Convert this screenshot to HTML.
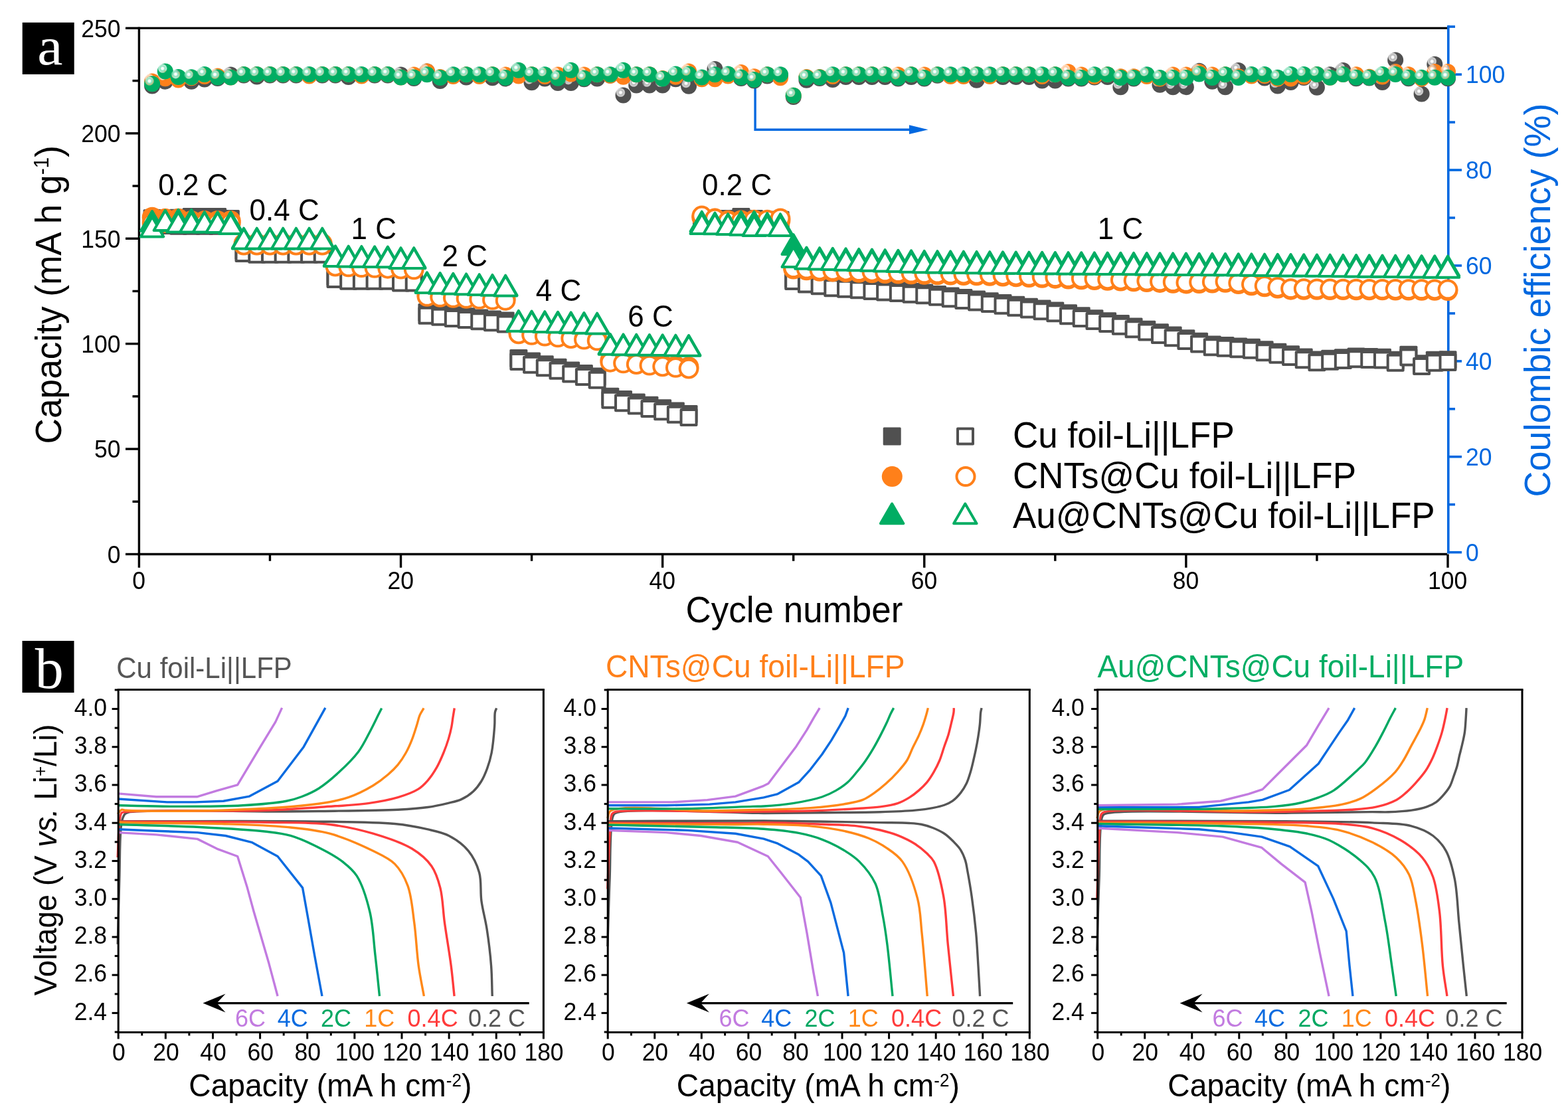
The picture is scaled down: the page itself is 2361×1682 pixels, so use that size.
<!DOCTYPE html><html><head><meta charset="utf-8"><title>Figure</title><style>html,body{margin:0;padding:0;background:#fff}svg{display:block}</style></head><body>
<svg xmlns="http://www.w3.org/2000/svg" width="2361" height="1682" viewBox="0 0 2361 1682" font-family='"Liberation Sans", Arial, sans-serif'>
<defs>
<radialGradient id="bG" cx="0.33" cy="0.32" r="0.3" fx="0.33" fy="0.32"><stop offset="0" stop-color="#ffffff"/><stop offset="0.2" stop-color="#ffffff"/><stop offset="0.5" stop-color="#8fe3c0"/><stop offset="0.8" stop-color="#8fe3c0" stop-opacity="0.6"/><stop offset="1" stop-color="#00AD63"/></radialGradient>
<radialGradient id="bO" cx="0.33" cy="0.32" r="0.3" fx="0.33" fy="0.32"><stop offset="0" stop-color="#ffffff"/><stop offset="0.2" stop-color="#ffffff"/><stop offset="0.5" stop-color="#ffc99e"/><stop offset="0.8" stop-color="#ffc99e" stop-opacity="0.6"/><stop offset="1" stop-color="#FF801A"/></radialGradient>
<radialGradient id="bK" cx="0.33" cy="0.32" r="0.3" fx="0.33" fy="0.32"><stop offset="0" stop-color="#ffffff"/><stop offset="0.2" stop-color="#ffffff"/><stop offset="0.5" stop-color="#b8b8b8"/><stop offset="0.8" stop-color="#b8b8b8" stop-opacity="0.6"/><stop offset="1" stop-color="#505050"/></radialGradient>
</defs>
<rect width="100%" height="100%" fill="#fff"/>
<rect x="33.7" y="33.9" width="78" height="78" fill="#000"/>
<text transform="translate(75.4,96.6) scale(1,0.94)" font-family='"Liberation Serif", "Times New Roman", serif' font-size="86" fill="#fff" text-anchor="middle">a</text>
<path d="M1137.1,128.4V195.3H1372" fill="none" stroke="#0068E0" stroke-width="3.4"/>
<path d="M1369,188.3L1397.6,195.3L1369,202.1Z" fill="#0068E0"/>
<g stroke="#000" stroke-width="3.4" fill="none">
<path d="M209.4,42.4H2179.0"/>
<path d="M209.4,40.699999999999996V836.2"/>
<path d="M207.6,834.5H2179.0"/>
<path d="M189,834.5H209.4"/>
<path d="M199.5,755.29H209.4"/>
<path d="M189,676.08H209.4"/>
<path d="M199.5,596.87H209.4"/>
<path d="M189,517.66H209.4"/>
<path d="M199.5,438.45H209.4"/>
<path d="M189,359.24H209.4"/>
<path d="M199.5,280.03H209.4"/>
<path d="M189,200.82H209.4"/>
<path d="M199.5,121.61H209.4"/>
<path d="M189,42.4H209.4"/>
<path d="M209.4,834.5V854.8"/>
<path d="M406.46,834.5V844.8"/>
<path d="M603.52,834.5V854.8"/>
<path d="M800.58,834.5V844.8"/>
<path d="M997.64,834.5V854.8"/>
<path d="M1194.7,834.5V844.8"/>
<path d="M1391.76,834.5V854.8"/>
<path d="M1588.82,834.5V844.8"/>
<path d="M1785.88,834.5V854.8"/>
<path d="M1982.94,834.5V844.8"/>
<path d="M2180,834.5V854.8"/>
</g>
<g stroke="#0068E0" stroke-width="3.6" fill="none">
<path d="M2180.8,38.3V833.4"/>
<path d="M2180.8,831.7H2201"/>
<path d="M2180.8,759.74H2191"/>
<path d="M2180.8,687.78H2201"/>
<path d="M2180.8,615.82H2191"/>
<path d="M2180.8,543.86H2201"/>
<path d="M2180.8,471.9H2191"/>
<path d="M2180.8,399.94H2201"/>
<path d="M2180.8,327.98H2191"/>
<path d="M2180.8,256.02H2201"/>
<path d="M2180.8,184.06H2191"/>
<path d="M2180.8,112.1H2201"/>
<path d="M2180.8,40.14H2191"/>
</g>
<g font-size="35.5" fill="#000" text-anchor="end">
<text transform="translate(181.5,847.8) scale(1,1.041)">0</text>
<text transform="translate(181.5,689.38) scale(1,1.041)">50</text>
<text transform="translate(181.5,530.96) scale(1,1.041)">100</text>
<text transform="translate(181.5,372.54) scale(1,1.041)">150</text>
<text transform="translate(181.5,214.12) scale(1,1.041)">200</text>
<text transform="translate(181.5,55.7) scale(1,1.041)">250</text>
</g>
<g font-size="35.5" fill="#000" text-anchor="middle">
<text transform="translate(209.1,887) scale(1,1.041)">0</text>
<text transform="translate(603.22,887) scale(1,1.041)">20</text>
<text transform="translate(997.34,887) scale(1,1.041)">40</text>
<text transform="translate(1391.46,887) scale(1,1.041)">60</text>
<text transform="translate(1785.58,887) scale(1,1.041)">80</text>
<text transform="translate(2179.7,887) scale(1,1.041)">100</text>
</g>
<g font-size="35.5" fill="#0068E0" text-anchor="start">
<text transform="translate(2207,845) scale(1,1.041)">0</text>
<text transform="translate(2207,701.08) scale(1,1.041)">20</text>
<text transform="translate(2207,557.16) scale(1,1.041)">40</text>
<text transform="translate(2207,413.24) scale(1,1.041)">60</text>
<text transform="translate(2207,269.32) scale(1,1.041)">80</text>
<text transform="translate(2207,125.4) scale(1,1.041)">100</text>
</g>
<text transform="translate(92.2,443.7) rotate(-90) scale(1,1.041)" font-size="53.2" text-anchor="middle" fill="#000">Capacity (mA h g<tspan font-size="30" dy="-18.5">-1</tspan><tspan dy="18.5">)</tspan></text>
<text transform="translate(1196,936.7) scale(1,1.041)" font-size="53" text-anchor="middle" fill="#000">Cycle number</text>
<text transform="translate(2334.4,452) rotate(-90) scale(1,1.041)" font-size="54" text-anchor="middle" fill="#0068E0">Coulombic efficiency (%)</text>
<g id="ce">
<circle cx="229.11" cy="129.6" r="12" fill="url(#bK)"/>
<circle cx="248.81" cy="122.7" r="12" fill="url(#bK)"/>
<circle cx="268.52" cy="118" r="12" fill="url(#bK)"/>
<circle cx="288.22" cy="122.7" r="12" fill="url(#bK)"/>
<circle cx="307.93" cy="119.6" r="12" fill="url(#bK)"/>
<circle cx="327.64" cy="117.9" r="12" fill="url(#bK)"/>
<circle cx="347.34" cy="112.5" r="12" fill="url(#bK)"/>
<circle cx="367.05" cy="113.5" r="12" fill="url(#bK)"/>
<circle cx="386.75" cy="115.6" r="12" fill="url(#bK)"/>
<circle cx="406.46" cy="113.5" r="12" fill="url(#bK)"/>
<circle cx="426.17" cy="113.5" r="12" fill="url(#bK)"/>
<circle cx="445.87" cy="113.5" r="12" fill="url(#bK)"/>
<circle cx="465.58" cy="113.5" r="12" fill="url(#bK)"/>
<circle cx="485.28" cy="113.5" r="12" fill="url(#bK)"/>
<circle cx="504.99" cy="113.5" r="12" fill="url(#bK)"/>
<circle cx="524.7" cy="115.9" r="12" fill="url(#bK)"/>
<circle cx="544.4" cy="113.5" r="12" fill="url(#bK)"/>
<circle cx="564.11" cy="113.5" r="12" fill="url(#bK)"/>
<circle cx="583.81" cy="113.5" r="12" fill="url(#bK)"/>
<circle cx="603.52" cy="112.5" r="12" fill="url(#bK)"/>
<circle cx="623.23" cy="118" r="12" fill="url(#bK)"/>
<circle cx="642.93" cy="107.6" r="12" fill="url(#bK)"/>
<circle cx="662.64" cy="122.1" r="12" fill="url(#bK)"/>
<circle cx="682.34" cy="113.7" r="12" fill="url(#bK)"/>
<circle cx="702.05" cy="116.5" r="12" fill="url(#bK)"/>
<circle cx="721.76" cy="113.7" r="12" fill="url(#bK)"/>
<circle cx="741.46" cy="117.2" r="12" fill="url(#bK)"/>
<circle cx="761.17" cy="118.5" r="12" fill="url(#bK)"/>
<circle cx="780.87" cy="107.3" r="12" fill="url(#bK)"/>
<circle cx="800.58" cy="124.2" r="12" fill="url(#bK)"/>
<circle cx="820.29" cy="118.6" r="12" fill="url(#bK)"/>
<circle cx="839.99" cy="124.9" r="12" fill="url(#bK)"/>
<circle cx="859.7" cy="124.9" r="12" fill="url(#bK)"/>
<circle cx="879.4" cy="119.3" r="12" fill="url(#bK)"/>
<circle cx="899.11" cy="118.6" r="12" fill="url(#bK)"/>
<circle cx="918.82" cy="113.7" r="12" fill="url(#bK)"/>
<circle cx="938.52" cy="143.6" r="12" fill="url(#bK)"/>
<circle cx="958.23" cy="128.4" r="12" fill="url(#bK)"/>
<circle cx="977.93" cy="128.4" r="12" fill="url(#bK)"/>
<circle cx="997.64" cy="128.4" r="12" fill="url(#bK)"/>
<circle cx="1017.35" cy="119.3" r="12" fill="url(#bK)"/>
<circle cx="1037.05" cy="129.8" r="12" fill="url(#bK)"/>
<circle cx="1056.76" cy="117.9" r="12" fill="url(#bK)"/>
<circle cx="1076.46" cy="104" r="12" fill="url(#bK)"/>
<circle cx="1096.17" cy="113" r="12" fill="url(#bK)"/>
<circle cx="1115.88" cy="117.9" r="12" fill="url(#bK)"/>
<circle cx="1135.58" cy="121.4" r="12" fill="url(#bK)"/>
<circle cx="1155.29" cy="114.4" r="12" fill="url(#bK)"/>
<circle cx="1174.99" cy="113.7" r="12" fill="url(#bK)"/>
<circle cx="1194.7" cy="146" r="12" fill="url(#bK)"/>
<circle cx="1214.41" cy="120.7" r="12" fill="url(#bK)"/>
<circle cx="1234.11" cy="117.9" r="12" fill="url(#bK)"/>
<circle cx="1253.82" cy="120" r="12" fill="url(#bK)"/>
<circle cx="1273.52" cy="116" r="12" fill="url(#bK)"/>
<circle cx="1293.23" cy="116" r="12" fill="url(#bK)"/>
<circle cx="1312.94" cy="116" r="12" fill="url(#bK)"/>
<circle cx="1332.64" cy="116" r="12" fill="url(#bK)"/>
<circle cx="1352.35" cy="118.5" r="12" fill="url(#bK)"/>
<circle cx="1372.05" cy="116" r="12" fill="url(#bK)"/>
<circle cx="1391.76" cy="118.5" r="12" fill="url(#bK)"/>
<circle cx="1411.47" cy="113.7" r="12" fill="url(#bK)"/>
<circle cx="1431.17" cy="113.7" r="12" fill="url(#bK)"/>
<circle cx="1450.88" cy="113.7" r="12" fill="url(#bK)"/>
<circle cx="1470.58" cy="120.7" r="12" fill="url(#bK)"/>
<circle cx="1490.29" cy="113.7" r="12" fill="url(#bK)"/>
<circle cx="1510" cy="116" r="12" fill="url(#bK)"/>
<circle cx="1529.7" cy="116" r="12" fill="url(#bK)"/>
<circle cx="1549.41" cy="116" r="12" fill="url(#bK)"/>
<circle cx="1569.11" cy="121.4" r="12" fill="url(#bK)"/>
<circle cx="1588.82" cy="121.4" r="12" fill="url(#bK)"/>
<circle cx="1608.53" cy="118.5" r="12" fill="url(#bK)"/>
<circle cx="1628.23" cy="118.5" r="12" fill="url(#bK)"/>
<circle cx="1647.94" cy="116.5" r="12" fill="url(#bK)"/>
<circle cx="1667.64" cy="116" r="12" fill="url(#bK)"/>
<circle cx="1687.35" cy="131.3" r="12" fill="url(#bK)"/>
<circle cx="1707.06" cy="118.5" r="12" fill="url(#bK)"/>
<circle cx="1726.76" cy="113.7" r="12" fill="url(#bK)"/>
<circle cx="1746.47" cy="127.7" r="12" fill="url(#bK)"/>
<circle cx="1766.17" cy="131.3" r="12" fill="url(#bK)"/>
<circle cx="1785.88" cy="131.3" r="12" fill="url(#bK)"/>
<circle cx="1805.59" cy="106.8" r="12" fill="url(#bK)"/>
<circle cx="1825.29" cy="122.8" r="12" fill="url(#bK)"/>
<circle cx="1845" cy="131.3" r="12" fill="url(#bK)"/>
<circle cx="1864.7" cy="106.1" r="12" fill="url(#bK)"/>
<circle cx="1884.41" cy="113.4" r="12" fill="url(#bK)"/>
<circle cx="1904.12" cy="117.6" r="12" fill="url(#bK)"/>
<circle cx="1923.82" cy="129.6" r="12" fill="url(#bK)"/>
<circle cx="1943.53" cy="124" r="12" fill="url(#bK)"/>
<circle cx="1963.23" cy="117" r="12" fill="url(#bK)"/>
<circle cx="1982.94" cy="131.8" r="12" fill="url(#bK)"/>
<circle cx="2002.65" cy="112.2" r="12" fill="url(#bK)"/>
<circle cx="2022.35" cy="105.9" r="12" fill="url(#bK)"/>
<circle cx="2042.06" cy="118.3" r="12" fill="url(#bK)"/>
<circle cx="2061.76" cy="117.6" r="12" fill="url(#bK)"/>
<circle cx="2081.47" cy="124" r="12" fill="url(#bK)"/>
<circle cx="2101.18" cy="90.4" r="12" fill="url(#bK)"/>
<circle cx="2120.88" cy="118.3" r="12" fill="url(#bK)"/>
<circle cx="2140.59" cy="141.6" r="12" fill="url(#bK)"/>
<circle cx="2160.29" cy="96.7" r="12" fill="url(#bK)"/>
<circle cx="2180" cy="118.3" r="12" fill="url(#bK)"/>
<circle cx="229.11" cy="122.5" r="12" fill="url(#bO)"/>
<circle cx="248.81" cy="118.3" r="12" fill="url(#bO)"/>
<circle cx="268.52" cy="120.4" r="12" fill="url(#bO)"/>
<circle cx="288.22" cy="117.3" r="12" fill="url(#bO)"/>
<circle cx="307.93" cy="115" r="12" fill="url(#bO)"/>
<circle cx="327.64" cy="114.6" r="12" fill="url(#bO)"/>
<circle cx="347.34" cy="116.5" r="12" fill="url(#bO)"/>
<circle cx="367.05" cy="112" r="12" fill="url(#bO)"/>
<circle cx="386.75" cy="112" r="12" fill="url(#bO)"/>
<circle cx="406.46" cy="112" r="12" fill="url(#bO)"/>
<circle cx="426.17" cy="112" r="12" fill="url(#bO)"/>
<circle cx="445.87" cy="112" r="12" fill="url(#bO)"/>
<circle cx="465.58" cy="114.5" r="12" fill="url(#bO)"/>
<circle cx="485.28" cy="112" r="12" fill="url(#bO)"/>
<circle cx="504.99" cy="112" r="12" fill="url(#bO)"/>
<circle cx="524.7" cy="112" r="12" fill="url(#bO)"/>
<circle cx="544.4" cy="114.5" r="12" fill="url(#bO)"/>
<circle cx="564.11" cy="112" r="12" fill="url(#bO)"/>
<circle cx="583.81" cy="112" r="12" fill="url(#bO)"/>
<circle cx="603.52" cy="116.5" r="12" fill="url(#bO)"/>
<circle cx="623.23" cy="112.5" r="12" fill="url(#bO)"/>
<circle cx="642.93" cy="107.5" r="12" fill="url(#bO)"/>
<circle cx="662.64" cy="116" r="12" fill="url(#bO)"/>
<circle cx="682.34" cy="115.1" r="12" fill="url(#bO)"/>
<circle cx="702.05" cy="112.2" r="12" fill="url(#bO)"/>
<circle cx="721.76" cy="115.1" r="12" fill="url(#bO)"/>
<circle cx="741.46" cy="112.2" r="12" fill="url(#bO)"/>
<circle cx="761.17" cy="112.4" r="12" fill="url(#bO)"/>
<circle cx="780.87" cy="114.4" r="12" fill="url(#bO)"/>
<circle cx="800.58" cy="112.2" r="12" fill="url(#bO)"/>
<circle cx="820.29" cy="115.1" r="12" fill="url(#bO)"/>
<circle cx="839.99" cy="112.4" r="12" fill="url(#bO)"/>
<circle cx="859.7" cy="111.6" r="12" fill="url(#bO)"/>
<circle cx="879.4" cy="112.4" r="12" fill="url(#bO)"/>
<circle cx="899.11" cy="112.2" r="12" fill="url(#bO)"/>
<circle cx="918.82" cy="113.7" r="12" fill="url(#bO)"/>
<circle cx="938.52" cy="115.8" r="12" fill="url(#bO)"/>
<circle cx="958.23" cy="112.2" r="12" fill="url(#bO)"/>
<circle cx="977.93" cy="112.2" r="12" fill="url(#bO)"/>
<circle cx="997.64" cy="118" r="12" fill="url(#bO)"/>
<circle cx="1017.35" cy="115.8" r="12" fill="url(#bO)"/>
<circle cx="1037.05" cy="107.5" r="12" fill="url(#bO)"/>
<circle cx="1056.76" cy="119.3" r="12" fill="url(#bO)"/>
<circle cx="1076.46" cy="119.3" r="12" fill="url(#bO)"/>
<circle cx="1096.17" cy="114.4" r="12" fill="url(#bO)"/>
<circle cx="1115.88" cy="108.9" r="12" fill="url(#bO)"/>
<circle cx="1135.58" cy="115.2" r="12" fill="url(#bO)"/>
<circle cx="1155.29" cy="112.2" r="12" fill="url(#bO)"/>
<circle cx="1174.99" cy="117.2" r="12" fill="url(#bO)"/>
<circle cx="1194.7" cy="143.7" r="12" fill="url(#bO)"/>
<circle cx="1214.41" cy="116" r="12" fill="url(#bO)"/>
<circle cx="1234.11" cy="116" r="12" fill="url(#bO)"/>
<circle cx="1253.82" cy="115" r="12" fill="url(#bO)"/>
<circle cx="1273.52" cy="112.2" r="12" fill="url(#bO)"/>
<circle cx="1293.23" cy="112.2" r="12" fill="url(#bO)"/>
<circle cx="1312.94" cy="112.2" r="12" fill="url(#bO)"/>
<circle cx="1332.64" cy="112.2" r="12" fill="url(#bO)"/>
<circle cx="1352.35" cy="112.4" r="12" fill="url(#bO)"/>
<circle cx="1372.05" cy="112.2" r="12" fill="url(#bO)"/>
<circle cx="1391.76" cy="112.4" r="12" fill="url(#bO)"/>
<circle cx="1411.47" cy="112.2" r="12" fill="url(#bO)"/>
<circle cx="1431.17" cy="115.1" r="12" fill="url(#bO)"/>
<circle cx="1450.88" cy="115.1" r="12" fill="url(#bO)"/>
<circle cx="1470.58" cy="112.2" r="12" fill="url(#bO)"/>
<circle cx="1490.29" cy="115.1" r="12" fill="url(#bO)"/>
<circle cx="1510" cy="112.2" r="12" fill="url(#bO)"/>
<circle cx="1529.7" cy="112.2" r="12" fill="url(#bO)"/>
<circle cx="1549.41" cy="112.2" r="12" fill="url(#bO)"/>
<circle cx="1569.11" cy="115.1" r="12" fill="url(#bO)"/>
<circle cx="1588.82" cy="112.2" r="12" fill="url(#bO)"/>
<circle cx="1608.53" cy="108.2" r="12" fill="url(#bO)"/>
<circle cx="1628.23" cy="112.4" r="12" fill="url(#bO)"/>
<circle cx="1647.94" cy="115.1" r="12" fill="url(#bO)"/>
<circle cx="1667.64" cy="112.2" r="12" fill="url(#bO)"/>
<circle cx="1687.35" cy="115.2" r="12" fill="url(#bO)"/>
<circle cx="1707.06" cy="115.2" r="12" fill="url(#bO)"/>
<circle cx="1726.76" cy="115.1" r="12" fill="url(#bO)"/>
<circle cx="1746.47" cy="118.6" r="12" fill="url(#bO)"/>
<circle cx="1766.17" cy="112.4" r="12" fill="url(#bO)"/>
<circle cx="1785.88" cy="112.4" r="12" fill="url(#bO)"/>
<circle cx="1805.59" cy="108.2" r="12" fill="url(#bO)"/>
<circle cx="1825.29" cy="112.4" r="12" fill="url(#bO)"/>
<circle cx="1845" cy="112.2" r="12" fill="url(#bO)"/>
<circle cx="1864.7" cy="115.2" r="12" fill="url(#bO)"/>
<circle cx="1884.41" cy="114.4" r="12" fill="url(#bO)"/>
<circle cx="1904.12" cy="114.1" r="12" fill="url(#bO)"/>
<circle cx="1923.82" cy="118.4" r="12" fill="url(#bO)"/>
<circle cx="1943.53" cy="118.4" r="12" fill="url(#bO)"/>
<circle cx="1963.23" cy="115.5" r="12" fill="url(#bO)"/>
<circle cx="1982.94" cy="111.9" r="12" fill="url(#bO)"/>
<circle cx="2002.65" cy="116.8" r="12" fill="url(#bO)"/>
<circle cx="2022.35" cy="111.9" r="12" fill="url(#bO)"/>
<circle cx="2042.06" cy="112.2" r="12" fill="url(#bO)"/>
<circle cx="2061.76" cy="115.7" r="12" fill="url(#bO)"/>
<circle cx="2081.47" cy="115.5" r="12" fill="url(#bO)"/>
<circle cx="2101.18" cy="108" r="12" fill="url(#bO)"/>
<circle cx="2120.88" cy="112.2" r="12" fill="url(#bO)"/>
<circle cx="2140.59" cy="118.4" r="12" fill="url(#bO)"/>
<circle cx="2160.29" cy="108" r="12" fill="url(#bO)"/>
<circle cx="2180" cy="108" r="12" fill="url(#bO)"/>
<circle cx="229.11" cy="126.3" r="12" fill="url(#bG)"/>
<circle cx="248.81" cy="107.4" r="12" fill="url(#bG)"/>
<circle cx="268.52" cy="116" r="12" fill="url(#bG)"/>
<circle cx="288.22" cy="116.3" r="12" fill="url(#bG)"/>
<circle cx="307.93" cy="112.1" r="12" fill="url(#bG)"/>
<circle cx="327.64" cy="116.4" r="12" fill="url(#bG)"/>
<circle cx="347.34" cy="116.5" r="12" fill="url(#bG)"/>
<circle cx="367.05" cy="112" r="12" fill="url(#bG)"/>
<circle cx="386.75" cy="112" r="12" fill="url(#bG)"/>
<circle cx="406.46" cy="112" r="12" fill="url(#bG)"/>
<circle cx="426.17" cy="112" r="12" fill="url(#bG)"/>
<circle cx="445.87" cy="112" r="12" fill="url(#bG)"/>
<circle cx="465.58" cy="112" r="12" fill="url(#bG)"/>
<circle cx="485.28" cy="112" r="12" fill="url(#bG)"/>
<circle cx="504.99" cy="112" r="12" fill="url(#bG)"/>
<circle cx="524.7" cy="112" r="12" fill="url(#bG)"/>
<circle cx="544.4" cy="112" r="12" fill="url(#bG)"/>
<circle cx="564.11" cy="112" r="12" fill="url(#bG)"/>
<circle cx="583.81" cy="112" r="12" fill="url(#bG)"/>
<circle cx="603.52" cy="116.5" r="12" fill="url(#bG)"/>
<circle cx="623.23" cy="116.5" r="12" fill="url(#bG)"/>
<circle cx="642.93" cy="112.2" r="12" fill="url(#bG)"/>
<circle cx="662.64" cy="117" r="12" fill="url(#bG)"/>
<circle cx="682.34" cy="112.2" r="12" fill="url(#bG)"/>
<circle cx="702.05" cy="112.2" r="12" fill="url(#bG)"/>
<circle cx="721.76" cy="112.2" r="12" fill="url(#bG)"/>
<circle cx="741.46" cy="112.2" r="12" fill="url(#bG)"/>
<circle cx="761.17" cy="117" r="12" fill="url(#bG)"/>
<circle cx="780.87" cy="105.8" r="12" fill="url(#bG)"/>
<circle cx="800.58" cy="112.2" r="12" fill="url(#bG)"/>
<circle cx="820.29" cy="112.2" r="12" fill="url(#bG)"/>
<circle cx="839.99" cy="117.8" r="12" fill="url(#bG)"/>
<circle cx="859.7" cy="105.8" r="12" fill="url(#bG)"/>
<circle cx="879.4" cy="117.8" r="12" fill="url(#bG)"/>
<circle cx="899.11" cy="112.2" r="12" fill="url(#bG)"/>
<circle cx="918.82" cy="112.2" r="12" fill="url(#bG)"/>
<circle cx="938.52" cy="105.8" r="12" fill="url(#bG)"/>
<circle cx="958.23" cy="112.2" r="12" fill="url(#bG)"/>
<circle cx="977.93" cy="112.2" r="12" fill="url(#bG)"/>
<circle cx="997.64" cy="118.5" r="12" fill="url(#bG)"/>
<circle cx="1017.35" cy="111.5" r="12" fill="url(#bG)"/>
<circle cx="1037.05" cy="111.5" r="12" fill="url(#bG)"/>
<circle cx="1056.76" cy="116.4" r="12" fill="url(#bG)"/>
<circle cx="1076.46" cy="112.2" r="12" fill="url(#bG)"/>
<circle cx="1096.17" cy="111.5" r="12" fill="url(#bG)"/>
<circle cx="1115.88" cy="116.4" r="12" fill="url(#bG)"/>
<circle cx="1135.58" cy="119.9" r="12" fill="url(#bG)"/>
<circle cx="1155.29" cy="112.2" r="12" fill="url(#bG)"/>
<circle cx="1174.99" cy="112.2" r="12" fill="url(#bG)"/>
<circle cx="1194.7" cy="143.7" r="12" fill="url(#bG)"/>
<circle cx="1214.41" cy="117" r="12" fill="url(#bG)"/>
<circle cx="1234.11" cy="116.4" r="12" fill="url(#bG)"/>
<circle cx="1253.82" cy="112.2" r="12" fill="url(#bG)"/>
<circle cx="1273.52" cy="112.2" r="12" fill="url(#bG)"/>
<circle cx="1293.23" cy="112.2" r="12" fill="url(#bG)"/>
<circle cx="1312.94" cy="112.2" r="12" fill="url(#bG)"/>
<circle cx="1332.64" cy="112.2" r="12" fill="url(#bG)"/>
<circle cx="1352.35" cy="117" r="12" fill="url(#bG)"/>
<circle cx="1372.05" cy="112.2" r="12" fill="url(#bG)"/>
<circle cx="1391.76" cy="117" r="12" fill="url(#bG)"/>
<circle cx="1411.47" cy="112.2" r="12" fill="url(#bG)"/>
<circle cx="1431.17" cy="112.2" r="12" fill="url(#bG)"/>
<circle cx="1450.88" cy="112.2" r="12" fill="url(#bG)"/>
<circle cx="1470.58" cy="112.2" r="12" fill="url(#bG)"/>
<circle cx="1490.29" cy="112.2" r="12" fill="url(#bG)"/>
<circle cx="1510" cy="112.2" r="12" fill="url(#bG)"/>
<circle cx="1529.7" cy="112.2" r="12" fill="url(#bG)"/>
<circle cx="1549.41" cy="112.2" r="12" fill="url(#bG)"/>
<circle cx="1569.11" cy="112.2" r="12" fill="url(#bG)"/>
<circle cx="1588.82" cy="112.2" r="12" fill="url(#bG)"/>
<circle cx="1608.53" cy="117" r="12" fill="url(#bG)"/>
<circle cx="1628.23" cy="117" r="12" fill="url(#bG)"/>
<circle cx="1647.94" cy="112.2" r="12" fill="url(#bG)"/>
<circle cx="1667.64" cy="112.2" r="12" fill="url(#bG)"/>
<circle cx="1687.35" cy="117" r="12" fill="url(#bG)"/>
<circle cx="1707.06" cy="117" r="12" fill="url(#bG)"/>
<circle cx="1726.76" cy="112.2" r="12" fill="url(#bG)"/>
<circle cx="1746.47" cy="117" r="12" fill="url(#bG)"/>
<circle cx="1766.17" cy="117" r="12" fill="url(#bG)"/>
<circle cx="1785.88" cy="117" r="12" fill="url(#bG)"/>
<circle cx="1805.59" cy="111.5" r="12" fill="url(#bG)"/>
<circle cx="1825.29" cy="117" r="12" fill="url(#bG)"/>
<circle cx="1845" cy="112.2" r="12" fill="url(#bG)"/>
<circle cx="1864.7" cy="117" r="12" fill="url(#bG)"/>
<circle cx="1884.41" cy="111.9" r="12" fill="url(#bG)"/>
<circle cx="1904.12" cy="111.9" r="12" fill="url(#bG)"/>
<circle cx="1923.82" cy="116.8" r="12" fill="url(#bG)"/>
<circle cx="1943.53" cy="111.9" r="12" fill="url(#bG)"/>
<circle cx="1963.23" cy="111.9" r="12" fill="url(#bG)"/>
<circle cx="1982.94" cy="111.9" r="12" fill="url(#bG)"/>
<circle cx="2002.65" cy="116.8" r="12" fill="url(#bG)"/>
<circle cx="2022.35" cy="111.9" r="12" fill="url(#bG)"/>
<circle cx="2042.06" cy="116.8" r="12" fill="url(#bG)"/>
<circle cx="2061.76" cy="116.8" r="12" fill="url(#bG)"/>
<circle cx="2081.47" cy="111.9" r="12" fill="url(#bG)"/>
<circle cx="2101.18" cy="111.9" r="12" fill="url(#bG)"/>
<circle cx="2120.88" cy="116.8" r="12" fill="url(#bG)"/>
<circle cx="2140.59" cy="116.8" r="12" fill="url(#bG)"/>
<circle cx="2160.29" cy="116.8" r="12" fill="url(#bG)"/>
<circle cx="2180" cy="116.8" r="12" fill="url(#bG)"/>
</g>
<g id="cap">
<rect x="215.61" y="315.32" width="27" height="27" rx="1.5" fill="#505050"/>
<rect x="235.31" y="315.32" width="27" height="27" rx="1.5" fill="#505050"/>
<rect x="255.02" y="314.69" width="27" height="27" rx="1.5" fill="#505050"/>
<rect x="274.72" y="313.11" width="27" height="27" rx="1.5" fill="#505050"/>
<rect x="294.43" y="313.11" width="27" height="27" rx="1.5" fill="#505050"/>
<rect x="314.14" y="313.11" width="27" height="27" rx="1.5" fill="#505050"/>
<rect x="333.84" y="315.96" width="27" height="27" rx="1.5" fill="#505050"/>
<rect x="353.55" y="364.12" width="27" height="27" rx="1.5" fill="#505050"/>
<rect x="373.25" y="366.02" width="27" height="27" rx="1.5" fill="#505050"/>
<rect x="392.96" y="366.02" width="27" height="27" rx="1.5" fill="#505050"/>
<rect x="412.67" y="366.02" width="27" height="27" rx="1.5" fill="#505050"/>
<rect x="432.37" y="366.02" width="27" height="27" rx="1.5" fill="#505050"/>
<rect x="452.08" y="366.02" width="27" height="27" rx="1.5" fill="#505050"/>
<rect x="471.78" y="366.02" width="27" height="27" rx="1.5" fill="#505050"/>
<rect x="491.49" y="403.09" width="27" height="27" rx="1.5" fill="#505050"/>
<rect x="511.2" y="405.94" width="27" height="27" rx="1.5" fill="#505050"/>
<rect x="530.9" y="405.94" width="27" height="27" rx="1.5" fill="#505050"/>
<rect x="550.61" y="405.94" width="27" height="27" rx="1.5" fill="#505050"/>
<rect x="570.31" y="405.94" width="27" height="27" rx="1.5" fill="#505050"/>
<rect x="590.02" y="408.79" width="27" height="27" rx="1.5" fill="#505050"/>
<rect x="609.73" y="408.79" width="27" height="27" rx="1.5" fill="#505050"/>
<rect x="629.43" y="456.95" width="27" height="27" rx="1.5" fill="#505050"/>
<rect x="649.14" y="459.06" width="27" height="27" rx="1.5" fill="#505050"/>
<rect x="668.84" y="461.18" width="27" height="27" rx="1.5" fill="#505050"/>
<rect x="688.55" y="463.29" width="27" height="27" rx="1.5" fill="#505050"/>
<rect x="708.26" y="465.4" width="27" height="27" rx="1.5" fill="#505050"/>
<rect x="727.96" y="467.51" width="27" height="27" rx="1.5" fill="#505050"/>
<rect x="747.67" y="469.62" width="27" height="27" rx="1.5" fill="#505050"/>
<rect x="767.37" y="526.02" width="27" height="27" rx="1.5" fill="#505050"/>
<rect x="787.08" y="530.62" width="27" height="27" rx="1.5" fill="#505050"/>
<rect x="806.79" y="535.21" width="27" height="27" rx="1.5" fill="#505050"/>
<rect x="826.49" y="539.8" width="27" height="27" rx="1.5" fill="#505050"/>
<rect x="846.2" y="544.4" width="27" height="27" rx="1.5" fill="#505050"/>
<rect x="865.9" y="548.99" width="27" height="27" rx="1.5" fill="#505050"/>
<rect x="885.61" y="553.59" width="27" height="27" rx="1.5" fill="#505050"/>
<rect x="905.32" y="583.69" width="27" height="27" rx="1.5" fill="#505050"/>
<rect x="925.02" y="588.07" width="27" height="27" rx="1.5" fill="#505050"/>
<rect x="944.73" y="592.45" width="27" height="27" rx="1.5" fill="#505050"/>
<rect x="964.43" y="596.84" width="27" height="27" rx="1.5" fill="#505050"/>
<rect x="984.14" y="601.22" width="27" height="27" rx="1.5" fill="#505050"/>
<rect x="1003.85" y="605.6" width="27" height="27" rx="1.5" fill="#505050"/>
<rect x="1023.55" y="609.98" width="27" height="27" rx="1.5" fill="#505050"/>
<rect x="1043.26" y="317.86" width="27" height="27" rx="1.5" fill="#505050"/>
<rect x="1062.96" y="317.86" width="27" height="27" rx="1.5" fill="#505050"/>
<rect x="1082.67" y="315.96" width="27" height="27" rx="1.5" fill="#505050"/>
<rect x="1102.38" y="313.11" width="27" height="27" rx="1.5" fill="#505050"/>
<rect x="1122.08" y="315.96" width="27" height="27" rx="1.5" fill="#505050"/>
<rect x="1141.79" y="317.86" width="27" height="27" rx="1.5" fill="#505050"/>
<rect x="1161.49" y="317.86" width="27" height="27" rx="1.5" fill="#505050"/>
<rect x="1181.2" y="406.26" width="27" height="27" rx="1.5" fill="#505050"/>
<rect x="1200.91" y="410.69" width="27" height="27" rx="1.5" fill="#505050"/>
<rect x="1220.61" y="413.54" width="27" height="27" rx="1.5" fill="#505050"/>
<rect x="1240.32" y="416.4" width="27" height="27" rx="1.5" fill="#505050"/>
<rect x="1260.02" y="417.98" width="27" height="27" rx="1.5" fill="#505050"/>
<rect x="1279.73" y="419.56" width="27" height="27" rx="1.5" fill="#505050"/>
<rect x="1299.44" y="421.15" width="27" height="27" rx="1.5" fill="#505050"/>
<rect x="1319.14" y="422.73" width="27" height="27" rx="1.5" fill="#505050"/>
<rect x="1338.85" y="424.32" width="27" height="27" rx="1.5" fill="#505050"/>
<rect x="1358.55" y="425.9" width="27" height="27" rx="1.5" fill="#505050"/>
<rect x="1378.26" y="427.48" width="27" height="27" rx="1.5" fill="#505050"/>
<rect x="1397.97" y="430.02" width="27" height="27" rx="1.5" fill="#505050"/>
<rect x="1417.67" y="432.55" width="27" height="27" rx="1.5" fill="#505050"/>
<rect x="1437.38" y="435.09" width="27" height="27" rx="1.5" fill="#505050"/>
<rect x="1457.08" y="437.62" width="27" height="27" rx="1.5" fill="#505050"/>
<rect x="1476.79" y="440.16" width="27" height="27" rx="1.5" fill="#505050"/>
<rect x="1496.5" y="443.01" width="27" height="27" rx="1.5" fill="#505050"/>
<rect x="1516.2" y="445.86" width="27" height="27" rx="1.5" fill="#505050"/>
<rect x="1535.91" y="448.71" width="27" height="27" rx="1.5" fill="#505050"/>
<rect x="1555.61" y="451.56" width="27" height="27" rx="1.5" fill="#505050"/>
<rect x="1575.32" y="454.42" width="27" height="27" rx="1.5" fill="#505050"/>
<rect x="1595.03" y="458.34" width="27" height="27" rx="1.5" fill="#505050"/>
<rect x="1614.73" y="462.27" width="27" height="27" rx="1.5" fill="#505050"/>
<rect x="1634.44" y="466.2" width="27" height="27" rx="1.5" fill="#505050"/>
<rect x="1654.14" y="470.13" width="27" height="27" rx="1.5" fill="#505050"/>
<rect x="1673.85" y="474.06" width="27" height="27" rx="1.5" fill="#505050"/>
<rect x="1693.56" y="478.42" width="27" height="27" rx="1.5" fill="#505050"/>
<rect x="1713.26" y="482.77" width="27" height="27" rx="1.5" fill="#505050"/>
<rect x="1732.97" y="487.13" width="27" height="27" rx="1.5" fill="#505050"/>
<rect x="1752.67" y="491.49" width="27" height="27" rx="1.5" fill="#505050"/>
<rect x="1772.38" y="496.13" width="27" height="27" rx="1.5" fill="#505050"/>
<rect x="1792.09" y="500.78" width="27" height="27" rx="1.5" fill="#505050"/>
<rect x="1811.79" y="505.43" width="27" height="27" rx="1.5" fill="#505050"/>
<rect x="1831.5" y="506.91" width="27" height="27" rx="1.5" fill="#505050"/>
<rect x="1851.2" y="508.38" width="27" height="27" rx="1.5" fill="#505050"/>
<rect x="1870.91" y="509.86" width="27" height="27" rx="1.5" fill="#505050"/>
<rect x="1890.62" y="513.35" width="27" height="27" rx="1.5" fill="#505050"/>
<rect x="1910.32" y="516.83" width="27" height="27" rx="1.5" fill="#505050"/>
<rect x="1930.03" y="520.32" width="27" height="27" rx="1.5" fill="#505050"/>
<rect x="1949.73" y="524.44" width="27" height="27" rx="1.5" fill="#505050"/>
<rect x="1969.44" y="528.56" width="27" height="27" rx="1.5" fill="#505050"/>
<rect x="1989.15" y="526.87" width="27" height="27" rx="1.5" fill="#505050"/>
<rect x="2008.85" y="525.18" width="27" height="27" rx="1.5" fill="#505050"/>
<rect x="2028.56" y="523.49" width="27" height="27" rx="1.5" fill="#505050"/>
<rect x="2048.26" y="524.12" width="27" height="27" rx="1.5" fill="#505050"/>
<rect x="2067.97" y="524.75" width="27" height="27" rx="1.5" fill="#505050"/>
<rect x="2087.68" y="528.87" width="27" height="27" rx="1.5" fill="#505050"/>
<rect x="2107.38" y="520.64" width="27" height="27" rx="1.5" fill="#505050"/>
<rect x="2127.09" y="534.26" width="27" height="27" rx="1.5" fill="#505050"/>
<rect x="2146.79" y="528.87" width="27" height="27" rx="1.5" fill="#505050"/>
<rect x="2166.5" y="528.24" width="27" height="27" rx="1.5" fill="#505050"/>
<rect x="217.61" y="330.31" width="23" height="23" fill="#fff" stroke="#505050" stroke-width="4" stroke-linejoin="round"/>
<rect x="237.31" y="328.1" width="23" height="23" fill="#fff" stroke="#505050" stroke-width="4" stroke-linejoin="round"/>
<rect x="257.02" y="328.73" width="23" height="23" fill="#fff" stroke="#505050" stroke-width="4" stroke-linejoin="round"/>
<rect x="276.72" y="328.73" width="23" height="23" fill="#fff" stroke="#505050" stroke-width="4" stroke-linejoin="round"/>
<rect x="296.43" y="328.73" width="23" height="23" fill="#fff" stroke="#505050" stroke-width="4" stroke-linejoin="round"/>
<rect x="316.14" y="328.73" width="23" height="23" fill="#fff" stroke="#505050" stroke-width="4" stroke-linejoin="round"/>
<rect x="335.84" y="328.73" width="23" height="23" fill="#fff" stroke="#505050" stroke-width="4" stroke-linejoin="round"/>
<rect x="355.55" y="369.92" width="23" height="23" fill="#fff" stroke="#505050" stroke-width="4" stroke-linejoin="round"/>
<rect x="375.25" y="371.82" width="23" height="23" fill="#fff" stroke="#505050" stroke-width="4" stroke-linejoin="round"/>
<rect x="394.96" y="371.82" width="23" height="23" fill="#fff" stroke="#505050" stroke-width="4" stroke-linejoin="round"/>
<rect x="414.67" y="371.82" width="23" height="23" fill="#fff" stroke="#505050" stroke-width="4" stroke-linejoin="round"/>
<rect x="434.37" y="371.82" width="23" height="23" fill="#fff" stroke="#505050" stroke-width="4" stroke-linejoin="round"/>
<rect x="454.08" y="371.82" width="23" height="23" fill="#fff" stroke="#505050" stroke-width="4" stroke-linejoin="round"/>
<rect x="473.78" y="371.82" width="23" height="23" fill="#fff" stroke="#505050" stroke-width="4" stroke-linejoin="round"/>
<rect x="493.49" y="408.89" width="23" height="23" fill="#fff" stroke="#505050" stroke-width="4" stroke-linejoin="round"/>
<rect x="513.2" y="411.74" width="23" height="23" fill="#fff" stroke="#505050" stroke-width="4" stroke-linejoin="round"/>
<rect x="532.9" y="411.74" width="23" height="23" fill="#fff" stroke="#505050" stroke-width="4" stroke-linejoin="round"/>
<rect x="552.61" y="411.74" width="23" height="23" fill="#fff" stroke="#505050" stroke-width="4" stroke-linejoin="round"/>
<rect x="572.31" y="411.74" width="23" height="23" fill="#fff" stroke="#505050" stroke-width="4" stroke-linejoin="round"/>
<rect x="592.02" y="414.59" width="23" height="23" fill="#fff" stroke="#505050" stroke-width="4" stroke-linejoin="round"/>
<rect x="611.73" y="414.59" width="23" height="23" fill="#fff" stroke="#505050" stroke-width="4" stroke-linejoin="round"/>
<rect x="631.43" y="463.7" width="23" height="23" fill="#fff" stroke="#505050" stroke-width="4" stroke-linejoin="round"/>
<rect x="651.14" y="465.82" width="23" height="23" fill="#fff" stroke="#505050" stroke-width="4" stroke-linejoin="round"/>
<rect x="670.84" y="467.93" width="23" height="23" fill="#fff" stroke="#505050" stroke-width="4" stroke-linejoin="round"/>
<rect x="690.55" y="470.04" width="23" height="23" fill="#fff" stroke="#505050" stroke-width="4" stroke-linejoin="round"/>
<rect x="710.26" y="472.15" width="23" height="23" fill="#fff" stroke="#505050" stroke-width="4" stroke-linejoin="round"/>
<rect x="729.96" y="474.26" width="23" height="23" fill="#fff" stroke="#505050" stroke-width="4" stroke-linejoin="round"/>
<rect x="749.67" y="476.38" width="23" height="23" fill="#fff" stroke="#505050" stroke-width="4" stroke-linejoin="round"/>
<rect x="769.37" y="533.09" width="23" height="23" fill="#fff" stroke="#505050" stroke-width="4" stroke-linejoin="round"/>
<rect x="789.08" y="537.69" width="23" height="23" fill="#fff" stroke="#505050" stroke-width="4" stroke-linejoin="round"/>
<rect x="808.79" y="542.28" width="23" height="23" fill="#fff" stroke="#505050" stroke-width="4" stroke-linejoin="round"/>
<rect x="828.49" y="546.87" width="23" height="23" fill="#fff" stroke="#505050" stroke-width="4" stroke-linejoin="round"/>
<rect x="848.2" y="551.47" width="23" height="23" fill="#fff" stroke="#505050" stroke-width="4" stroke-linejoin="round"/>
<rect x="867.9" y="556.06" width="23" height="23" fill="#fff" stroke="#505050" stroke-width="4" stroke-linejoin="round"/>
<rect x="887.61" y="560.66" width="23" height="23" fill="#fff" stroke="#505050" stroke-width="4" stroke-linejoin="round"/>
<rect x="907.32" y="590.76" width="23" height="23" fill="#fff" stroke="#505050" stroke-width="4" stroke-linejoin="round"/>
<rect x="927.02" y="595.14" width="23" height="23" fill="#fff" stroke="#505050" stroke-width="4" stroke-linejoin="round"/>
<rect x="946.73" y="599.52" width="23" height="23" fill="#fff" stroke="#505050" stroke-width="4" stroke-linejoin="round"/>
<rect x="966.43" y="603.91" width="23" height="23" fill="#fff" stroke="#505050" stroke-width="4" stroke-linejoin="round"/>
<rect x="986.14" y="608.29" width="23" height="23" fill="#fff" stroke="#505050" stroke-width="4" stroke-linejoin="round"/>
<rect x="1005.85" y="612.67" width="23" height="23" fill="#fff" stroke="#505050" stroke-width="4" stroke-linejoin="round"/>
<rect x="1025.55" y="617.05" width="23" height="23" fill="#fff" stroke="#505050" stroke-width="4" stroke-linejoin="round"/>
<rect x="1045.26" y="327.78" width="23" height="23" fill="#fff" stroke="#505050" stroke-width="4" stroke-linejoin="round"/>
<rect x="1064.96" y="327.78" width="23" height="23" fill="#fff" stroke="#505050" stroke-width="4" stroke-linejoin="round"/>
<rect x="1084.67" y="327.78" width="23" height="23" fill="#fff" stroke="#505050" stroke-width="4" stroke-linejoin="round"/>
<rect x="1104.38" y="327.78" width="23" height="23" fill="#fff" stroke="#505050" stroke-width="4" stroke-linejoin="round"/>
<rect x="1124.08" y="327.78" width="23" height="23" fill="#fff" stroke="#505050" stroke-width="4" stroke-linejoin="round"/>
<rect x="1143.79" y="327.78" width="23" height="23" fill="#fff" stroke="#505050" stroke-width="4" stroke-linejoin="round"/>
<rect x="1163.49" y="327.78" width="23" height="23" fill="#fff" stroke="#505050" stroke-width="4" stroke-linejoin="round"/>
<rect x="1183.2" y="412.06" width="23" height="23" fill="#fff" stroke="#505050" stroke-width="4" stroke-linejoin="round"/>
<rect x="1202.91" y="416.49" width="23" height="23" fill="#fff" stroke="#505050" stroke-width="4" stroke-linejoin="round"/>
<rect x="1222.61" y="419.35" width="23" height="23" fill="#fff" stroke="#505050" stroke-width="4" stroke-linejoin="round"/>
<rect x="1242.32" y="422.2" width="23" height="23" fill="#fff" stroke="#505050" stroke-width="4" stroke-linejoin="round"/>
<rect x="1262.02" y="423.78" width="23" height="23" fill="#fff" stroke="#505050" stroke-width="4" stroke-linejoin="round"/>
<rect x="1281.73" y="425.37" width="23" height="23" fill="#fff" stroke="#505050" stroke-width="4" stroke-linejoin="round"/>
<rect x="1301.44" y="426.95" width="23" height="23" fill="#fff" stroke="#505050" stroke-width="4" stroke-linejoin="round"/>
<rect x="1321.14" y="428.53" width="23" height="23" fill="#fff" stroke="#505050" stroke-width="4" stroke-linejoin="round"/>
<rect x="1340.85" y="430.12" width="23" height="23" fill="#fff" stroke="#505050" stroke-width="4" stroke-linejoin="round"/>
<rect x="1360.55" y="431.7" width="23" height="23" fill="#fff" stroke="#505050" stroke-width="4" stroke-linejoin="round"/>
<rect x="1380.26" y="433.29" width="23" height="23" fill="#fff" stroke="#505050" stroke-width="4" stroke-linejoin="round"/>
<rect x="1399.97" y="435.82" width="23" height="23" fill="#fff" stroke="#505050" stroke-width="4" stroke-linejoin="round"/>
<rect x="1419.67" y="438.36" width="23" height="23" fill="#fff" stroke="#505050" stroke-width="4" stroke-linejoin="round"/>
<rect x="1439.38" y="440.89" width="23" height="23" fill="#fff" stroke="#505050" stroke-width="4" stroke-linejoin="round"/>
<rect x="1459.08" y="443.43" width="23" height="23" fill="#fff" stroke="#505050" stroke-width="4" stroke-linejoin="round"/>
<rect x="1478.79" y="445.96" width="23" height="23" fill="#fff" stroke="#505050" stroke-width="4" stroke-linejoin="round"/>
<rect x="1498.5" y="448.81" width="23" height="23" fill="#fff" stroke="#505050" stroke-width="4" stroke-linejoin="round"/>
<rect x="1518.2" y="451.66" width="23" height="23" fill="#fff" stroke="#505050" stroke-width="4" stroke-linejoin="round"/>
<rect x="1537.91" y="454.52" width="23" height="23" fill="#fff" stroke="#505050" stroke-width="4" stroke-linejoin="round"/>
<rect x="1557.61" y="457.37" width="23" height="23" fill="#fff" stroke="#505050" stroke-width="4" stroke-linejoin="round"/>
<rect x="1577.32" y="460.22" width="23" height="23" fill="#fff" stroke="#505050" stroke-width="4" stroke-linejoin="round"/>
<rect x="1597.03" y="464.15" width="23" height="23" fill="#fff" stroke="#505050" stroke-width="4" stroke-linejoin="round"/>
<rect x="1616.73" y="468.08" width="23" height="23" fill="#fff" stroke="#505050" stroke-width="4" stroke-linejoin="round"/>
<rect x="1636.44" y="472" width="23" height="23" fill="#fff" stroke="#505050" stroke-width="4" stroke-linejoin="round"/>
<rect x="1656.14" y="475.93" width="23" height="23" fill="#fff" stroke="#505050" stroke-width="4" stroke-linejoin="round"/>
<rect x="1675.85" y="479.86" width="23" height="23" fill="#fff" stroke="#505050" stroke-width="4" stroke-linejoin="round"/>
<rect x="1695.56" y="484.22" width="23" height="23" fill="#fff" stroke="#505050" stroke-width="4" stroke-linejoin="round"/>
<rect x="1715.26" y="488.58" width="23" height="23" fill="#fff" stroke="#505050" stroke-width="4" stroke-linejoin="round"/>
<rect x="1734.97" y="492.93" width="23" height="23" fill="#fff" stroke="#505050" stroke-width="4" stroke-linejoin="round"/>
<rect x="1754.67" y="497.29" width="23" height="23" fill="#fff" stroke="#505050" stroke-width="4" stroke-linejoin="round"/>
<rect x="1774.38" y="501.94" width="23" height="23" fill="#fff" stroke="#505050" stroke-width="4" stroke-linejoin="round"/>
<rect x="1794.09" y="506.58" width="23" height="23" fill="#fff" stroke="#505050" stroke-width="4" stroke-linejoin="round"/>
<rect x="1813.79" y="511.23" width="23" height="23" fill="#fff" stroke="#505050" stroke-width="4" stroke-linejoin="round"/>
<rect x="1833.5" y="512.71" width="23" height="23" fill="#fff" stroke="#505050" stroke-width="4" stroke-linejoin="round"/>
<rect x="1853.2" y="514.19" width="23" height="23" fill="#fff" stroke="#505050" stroke-width="4" stroke-linejoin="round"/>
<rect x="1872.91" y="515.67" width="23" height="23" fill="#fff" stroke="#505050" stroke-width="4" stroke-linejoin="round"/>
<rect x="1892.62" y="519.15" width="23" height="23" fill="#fff" stroke="#505050" stroke-width="4" stroke-linejoin="round"/>
<rect x="1912.32" y="522.64" width="23" height="23" fill="#fff" stroke="#505050" stroke-width="4" stroke-linejoin="round"/>
<rect x="1932.03" y="526.12" width="23" height="23" fill="#fff" stroke="#505050" stroke-width="4" stroke-linejoin="round"/>
<rect x="1951.73" y="530.24" width="23" height="23" fill="#fff" stroke="#505050" stroke-width="4" stroke-linejoin="round"/>
<rect x="1971.44" y="534.36" width="23" height="23" fill="#fff" stroke="#505050" stroke-width="4" stroke-linejoin="round"/>
<rect x="1991.15" y="532.67" width="23" height="23" fill="#fff" stroke="#505050" stroke-width="4" stroke-linejoin="round"/>
<rect x="2010.85" y="530.98" width="23" height="23" fill="#fff" stroke="#505050" stroke-width="4" stroke-linejoin="round"/>
<rect x="2030.56" y="529.29" width="23" height="23" fill="#fff" stroke="#505050" stroke-width="4" stroke-linejoin="round"/>
<rect x="2050.26" y="529.92" width="23" height="23" fill="#fff" stroke="#505050" stroke-width="4" stroke-linejoin="round"/>
<rect x="2069.97" y="530.56" width="23" height="23" fill="#fff" stroke="#505050" stroke-width="4" stroke-linejoin="round"/>
<rect x="2089.68" y="534.68" width="23" height="23" fill="#fff" stroke="#505050" stroke-width="4" stroke-linejoin="round"/>
<rect x="2109.38" y="526.44" width="23" height="23" fill="#fff" stroke="#505050" stroke-width="4" stroke-linejoin="round"/>
<rect x="2129.09" y="540.06" width="23" height="23" fill="#fff" stroke="#505050" stroke-width="4" stroke-linejoin="round"/>
<rect x="2148.79" y="534.68" width="23" height="23" fill="#fff" stroke="#505050" stroke-width="4" stroke-linejoin="round"/>
<rect x="2168.5" y="534.04" width="23" height="23" fill="#fff" stroke="#505050" stroke-width="4" stroke-linejoin="round"/>
<circle cx="229.11" cy="327.24" r="15.4" fill="#FF801A"/>
<circle cx="248.81" cy="329.14" r="15.4" fill="#FF801A"/>
<circle cx="268.52" cy="329.14" r="15.4" fill="#FF801A"/>
<circle cx="288.22" cy="332.31" r="15.4" fill="#FF801A"/>
<circle cx="307.93" cy="332.31" r="15.4" fill="#FF801A"/>
<circle cx="327.64" cy="332.31" r="15.4" fill="#FF801A"/>
<circle cx="347.34" cy="332.31" r="15.4" fill="#FF801A"/>
<circle cx="367.05" cy="366.53" r="15.4" fill="#FF801A"/>
<circle cx="386.75" cy="366.53" r="15.4" fill="#FF801A"/>
<circle cx="406.46" cy="366.53" r="15.4" fill="#FF801A"/>
<circle cx="426.17" cy="366.53" r="15.4" fill="#FF801A"/>
<circle cx="445.87" cy="366.53" r="15.4" fill="#FF801A"/>
<circle cx="465.58" cy="366.53" r="15.4" fill="#FF801A"/>
<circle cx="485.28" cy="366.53" r="15.4" fill="#FF801A"/>
<circle cx="504.99" cy="398.53" r="15.4" fill="#FF801A"/>
<circle cx="524.7" cy="399.32" r="15.4" fill="#FF801A"/>
<circle cx="544.4" cy="400.11" r="15.4" fill="#FF801A"/>
<circle cx="564.11" cy="400.9" r="15.4" fill="#FF801A"/>
<circle cx="583.81" cy="401.7" r="15.4" fill="#FF801A"/>
<circle cx="603.52" cy="402.49" r="15.4" fill="#FF801A"/>
<circle cx="623.23" cy="403.28" r="15.4" fill="#FF801A"/>
<circle cx="642.93" cy="443.84" r="15.4" fill="#FF801A"/>
<circle cx="662.64" cy="444.84" r="15.4" fill="#FF801A"/>
<circle cx="682.34" cy="445.84" r="15.4" fill="#FF801A"/>
<circle cx="702.05" cy="446.85" r="15.4" fill="#FF801A"/>
<circle cx="721.76" cy="447.85" r="15.4" fill="#FF801A"/>
<circle cx="741.46" cy="448.85" r="15.4" fill="#FF801A"/>
<circle cx="761.17" cy="449.86" r="15.4" fill="#FF801A"/>
<circle cx="780.87" cy="500.23" r="15.4" fill="#FF801A"/>
<circle cx="800.58" cy="501.92" r="15.4" fill="#FF801A"/>
<circle cx="820.29" cy="503.61" r="15.4" fill="#FF801A"/>
<circle cx="839.99" cy="505.3" r="15.4" fill="#FF801A"/>
<circle cx="859.7" cy="506.99" r="15.4" fill="#FF801A"/>
<circle cx="879.4" cy="508.68" r="15.4" fill="#FF801A"/>
<circle cx="899.11" cy="510.37" r="15.4" fill="#FF801A"/>
<circle cx="918.82" cy="542.69" r="15.4" fill="#FF801A"/>
<circle cx="938.52" cy="544.33" r="15.4" fill="#FF801A"/>
<circle cx="958.23" cy="545.96" r="15.4" fill="#FF801A"/>
<circle cx="977.93" cy="547.6" r="15.4" fill="#FF801A"/>
<circle cx="997.64" cy="549.24" r="15.4" fill="#FF801A"/>
<circle cx="1017.35" cy="550.88" r="15.4" fill="#FF801A"/>
<circle cx="1037.05" cy="552.51" r="15.4" fill="#FF801A"/>
<circle cx="1056.76" cy="327.56" r="15.4" fill="#FF801A"/>
<circle cx="1076.46" cy="328.82" r="15.4" fill="#FF801A"/>
<circle cx="1096.17" cy="331.99" r="15.4" fill="#FF801A"/>
<circle cx="1115.88" cy="331.99" r="15.4" fill="#FF801A"/>
<circle cx="1135.58" cy="331.99" r="15.4" fill="#FF801A"/>
<circle cx="1155.29" cy="331.99" r="15.4" fill="#FF801A"/>
<circle cx="1174.99" cy="331.99" r="15.4" fill="#FF801A"/>
<circle cx="1194.7" cy="405.18" r="15.4" fill="#FF801A"/>
<circle cx="1214.41" cy="406.77" r="15.4" fill="#FF801A"/>
<circle cx="1234.11" cy="408.35" r="15.4" fill="#FF801A"/>
<circle cx="1253.82" cy="408.98" r="15.4" fill="#FF801A"/>
<circle cx="1273.52" cy="409.62" r="15.4" fill="#FF801A"/>
<circle cx="1293.23" cy="410.25" r="15.4" fill="#FF801A"/>
<circle cx="1312.94" cy="410.88" r="15.4" fill="#FF801A"/>
<circle cx="1332.64" cy="411.52" r="15.4" fill="#FF801A"/>
<circle cx="1352.35" cy="412.15" r="15.4" fill="#FF801A"/>
<circle cx="1372.05" cy="412.79" r="15.4" fill="#FF801A"/>
<circle cx="1391.76" cy="413.42" r="15.4" fill="#FF801A"/>
<circle cx="1411.47" cy="413.8" r="15.4" fill="#FF801A"/>
<circle cx="1431.17" cy="414.18" r="15.4" fill="#FF801A"/>
<circle cx="1450.88" cy="414.56" r="15.4" fill="#FF801A"/>
<circle cx="1470.58" cy="414.94" r="15.4" fill="#FF801A"/>
<circle cx="1490.29" cy="415.32" r="15.4" fill="#FF801A"/>
<circle cx="1510" cy="416.1" r="15.4" fill="#FF801A"/>
<circle cx="1529.7" cy="416.88" r="15.4" fill="#FF801A"/>
<circle cx="1549.41" cy="417.67" r="15.4" fill="#FF801A"/>
<circle cx="1569.11" cy="418.45" r="15.4" fill="#FF801A"/>
<circle cx="1588.82" cy="419.23" r="15.4" fill="#FF801A"/>
<circle cx="1608.53" cy="420.01" r="15.4" fill="#FF801A"/>
<circle cx="1628.23" cy="420.79" r="15.4" fill="#FF801A"/>
<circle cx="1647.94" cy="421.57" r="15.4" fill="#FF801A"/>
<circle cx="1667.64" cy="422.35" r="15.4" fill="#FF801A"/>
<circle cx="1687.35" cy="423.14" r="15.4" fill="#FF801A"/>
<circle cx="1707.06" cy="423.92" r="15.4" fill="#FF801A"/>
<circle cx="1726.76" cy="424.7" r="15.4" fill="#FF801A"/>
<circle cx="1746.47" cy="425.48" r="15.4" fill="#FF801A"/>
<circle cx="1766.17" cy="426.26" r="15.4" fill="#FF801A"/>
<circle cx="1785.88" cy="427.04" r="15.4" fill="#FF801A"/>
<circle cx="1805.59" cy="426.52" r="15.4" fill="#FF801A"/>
<circle cx="1825.29" cy="425.99" r="15.4" fill="#FF801A"/>
<circle cx="1845" cy="425.46" r="15.4" fill="#FF801A"/>
<circle cx="1864.7" cy="427.61" r="15.4" fill="#FF801A"/>
<circle cx="1884.41" cy="429.77" r="15.4" fill="#FF801A"/>
<circle cx="1904.12" cy="431.92" r="15.4" fill="#FF801A"/>
<circle cx="1923.82" cy="434.08" r="15.4" fill="#FF801A"/>
<circle cx="1943.53" cy="436.23" r="15.4" fill="#FF801A"/>
<circle cx="1963.23" cy="436.34" r="15.4" fill="#FF801A"/>
<circle cx="1982.94" cy="436.44" r="15.4" fill="#FF801A"/>
<circle cx="2002.65" cy="436.55" r="15.4" fill="#FF801A"/>
<circle cx="2022.35" cy="436.65" r="15.4" fill="#FF801A"/>
<circle cx="2042.06" cy="436.76" r="15.4" fill="#FF801A"/>
<circle cx="2061.76" cy="436.87" r="15.4" fill="#FF801A"/>
<circle cx="2081.47" cy="436.97" r="15.4" fill="#FF801A"/>
<circle cx="2101.18" cy="437.08" r="15.4" fill="#FF801A"/>
<circle cx="2120.88" cy="437.18" r="15.4" fill="#FF801A"/>
<circle cx="2140.59" cy="437.29" r="15.4" fill="#FF801A"/>
<circle cx="2160.29" cy="437.39" r="15.4" fill="#FF801A"/>
<circle cx="2180" cy="437.5" r="15.4" fill="#FF801A"/>
<circle cx="229.11" cy="335.48" r="13.4" fill="#fff" stroke="#FF801A" stroke-width="4"/>
<circle cx="248.81" cy="335.48" r="13.4" fill="#fff" stroke="#FF801A" stroke-width="4"/>
<circle cx="268.52" cy="335.48" r="13.4" fill="#fff" stroke="#FF801A" stroke-width="4"/>
<circle cx="288.22" cy="335.48" r="13.4" fill="#fff" stroke="#FF801A" stroke-width="4"/>
<circle cx="307.93" cy="335.48" r="13.4" fill="#fff" stroke="#FF801A" stroke-width="4"/>
<circle cx="327.64" cy="335.48" r="13.4" fill="#fff" stroke="#FF801A" stroke-width="4"/>
<circle cx="347.34" cy="335.48" r="13.4" fill="#fff" stroke="#FF801A" stroke-width="4"/>
<circle cx="367.05" cy="369.06" r="13.4" fill="#fff" stroke="#FF801A" stroke-width="4"/>
<circle cx="386.75" cy="369.06" r="13.4" fill="#fff" stroke="#FF801A" stroke-width="4"/>
<circle cx="406.46" cy="369.06" r="13.4" fill="#fff" stroke="#FF801A" stroke-width="4"/>
<circle cx="426.17" cy="369.06" r="13.4" fill="#fff" stroke="#FF801A" stroke-width="4"/>
<circle cx="445.87" cy="369.06" r="13.4" fill="#fff" stroke="#FF801A" stroke-width="4"/>
<circle cx="465.58" cy="369.06" r="13.4" fill="#fff" stroke="#FF801A" stroke-width="4"/>
<circle cx="485.28" cy="369.06" r="13.4" fill="#fff" stroke="#FF801A" stroke-width="4"/>
<circle cx="504.99" cy="401.06" r="13.4" fill="#fff" stroke="#FF801A" stroke-width="4"/>
<circle cx="524.7" cy="401.85" r="13.4" fill="#fff" stroke="#FF801A" stroke-width="4"/>
<circle cx="544.4" cy="402.65" r="13.4" fill="#fff" stroke="#FF801A" stroke-width="4"/>
<circle cx="564.11" cy="403.44" r="13.4" fill="#fff" stroke="#FF801A" stroke-width="4"/>
<circle cx="583.81" cy="404.23" r="13.4" fill="#fff" stroke="#FF801A" stroke-width="4"/>
<circle cx="603.52" cy="405.02" r="13.4" fill="#fff" stroke="#FF801A" stroke-width="4"/>
<circle cx="623.23" cy="405.82" r="13.4" fill="#fff" stroke="#FF801A" stroke-width="4"/>
<circle cx="642.93" cy="446.37" r="13.4" fill="#fff" stroke="#FF801A" stroke-width="4"/>
<circle cx="662.64" cy="447.37" r="13.4" fill="#fff" stroke="#FF801A" stroke-width="4"/>
<circle cx="682.34" cy="448.38" r="13.4" fill="#fff" stroke="#FF801A" stroke-width="4"/>
<circle cx="702.05" cy="449.38" r="13.4" fill="#fff" stroke="#FF801A" stroke-width="4"/>
<circle cx="721.76" cy="450.38" r="13.4" fill="#fff" stroke="#FF801A" stroke-width="4"/>
<circle cx="741.46" cy="451.39" r="13.4" fill="#fff" stroke="#FF801A" stroke-width="4"/>
<circle cx="761.17" cy="452.39" r="13.4" fill="#fff" stroke="#FF801A" stroke-width="4"/>
<circle cx="780.87" cy="502.77" r="13.4" fill="#fff" stroke="#FF801A" stroke-width="4"/>
<circle cx="800.58" cy="504.46" r="13.4" fill="#fff" stroke="#FF801A" stroke-width="4"/>
<circle cx="820.29" cy="506.15" r="13.4" fill="#fff" stroke="#FF801A" stroke-width="4"/>
<circle cx="839.99" cy="507.84" r="13.4" fill="#fff" stroke="#FF801A" stroke-width="4"/>
<circle cx="859.7" cy="509.53" r="13.4" fill="#fff" stroke="#FF801A" stroke-width="4"/>
<circle cx="879.4" cy="511.22" r="13.4" fill="#fff" stroke="#FF801A" stroke-width="4"/>
<circle cx="899.11" cy="512.91" r="13.4" fill="#fff" stroke="#FF801A" stroke-width="4"/>
<circle cx="918.82" cy="545.23" r="13.4" fill="#fff" stroke="#FF801A" stroke-width="4"/>
<circle cx="938.52" cy="546.86" r="13.4" fill="#fff" stroke="#FF801A" stroke-width="4"/>
<circle cx="958.23" cy="548.5" r="13.4" fill="#fff" stroke="#FF801A" stroke-width="4"/>
<circle cx="977.93" cy="550.14" r="13.4" fill="#fff" stroke="#FF801A" stroke-width="4"/>
<circle cx="997.64" cy="551.77" r="13.4" fill="#fff" stroke="#FF801A" stroke-width="4"/>
<circle cx="1017.35" cy="553.41" r="13.4" fill="#fff" stroke="#FF801A" stroke-width="4"/>
<circle cx="1037.05" cy="555.05" r="13.4" fill="#fff" stroke="#FF801A" stroke-width="4"/>
<circle cx="1056.76" cy="325.02" r="13.4" fill="#fff" stroke="#FF801A" stroke-width="4"/>
<circle cx="1076.46" cy="329.14" r="13.4" fill="#fff" stroke="#FF801A" stroke-width="4"/>
<circle cx="1096.17" cy="332.94" r="13.4" fill="#fff" stroke="#FF801A" stroke-width="4"/>
<circle cx="1115.88" cy="332.94" r="13.4" fill="#fff" stroke="#FF801A" stroke-width="4"/>
<circle cx="1135.58" cy="331.04" r="13.4" fill="#fff" stroke="#FF801A" stroke-width="4"/>
<circle cx="1155.29" cy="331.04" r="13.4" fill="#fff" stroke="#FF801A" stroke-width="4"/>
<circle cx="1174.99" cy="328.82" r="13.4" fill="#fff" stroke="#FF801A" stroke-width="4"/>
<circle cx="1194.7" cy="403.6" r="13.4" fill="#fff" stroke="#FF801A" stroke-width="4"/>
<circle cx="1214.41" cy="405.18" r="13.4" fill="#fff" stroke="#FF801A" stroke-width="4"/>
<circle cx="1234.11" cy="406.77" r="13.4" fill="#fff" stroke="#FF801A" stroke-width="4"/>
<circle cx="1253.82" cy="407.4" r="13.4" fill="#fff" stroke="#FF801A" stroke-width="4"/>
<circle cx="1273.52" cy="408.03" r="13.4" fill="#fff" stroke="#FF801A" stroke-width="4"/>
<circle cx="1293.23" cy="408.67" r="13.4" fill="#fff" stroke="#FF801A" stroke-width="4"/>
<circle cx="1312.94" cy="409.3" r="13.4" fill="#fff" stroke="#FF801A" stroke-width="4"/>
<circle cx="1332.64" cy="409.93" r="13.4" fill="#fff" stroke="#FF801A" stroke-width="4"/>
<circle cx="1352.35" cy="410.57" r="13.4" fill="#fff" stroke="#FF801A" stroke-width="4"/>
<circle cx="1372.05" cy="411.2" r="13.4" fill="#fff" stroke="#FF801A" stroke-width="4"/>
<circle cx="1391.76" cy="411.84" r="13.4" fill="#fff" stroke="#FF801A" stroke-width="4"/>
<circle cx="1411.47" cy="412.22" r="13.4" fill="#fff" stroke="#FF801A" stroke-width="4"/>
<circle cx="1431.17" cy="412.6" r="13.4" fill="#fff" stroke="#FF801A" stroke-width="4"/>
<circle cx="1450.88" cy="412.98" r="13.4" fill="#fff" stroke="#FF801A" stroke-width="4"/>
<circle cx="1470.58" cy="413.36" r="13.4" fill="#fff" stroke="#FF801A" stroke-width="4"/>
<circle cx="1490.29" cy="413.74" r="13.4" fill="#fff" stroke="#FF801A" stroke-width="4"/>
<circle cx="1510" cy="414.52" r="13.4" fill="#fff" stroke="#FF801A" stroke-width="4"/>
<circle cx="1529.7" cy="415.3" r="13.4" fill="#fff" stroke="#FF801A" stroke-width="4"/>
<circle cx="1549.41" cy="416.08" r="13.4" fill="#fff" stroke="#FF801A" stroke-width="4"/>
<circle cx="1569.11" cy="416.86" r="13.4" fill="#fff" stroke="#FF801A" stroke-width="4"/>
<circle cx="1588.82" cy="417.64" r="13.4" fill="#fff" stroke="#FF801A" stroke-width="4"/>
<circle cx="1608.53" cy="418.43" r="13.4" fill="#fff" stroke="#FF801A" stroke-width="4"/>
<circle cx="1628.23" cy="419.21" r="13.4" fill="#fff" stroke="#FF801A" stroke-width="4"/>
<circle cx="1647.94" cy="419.99" r="13.4" fill="#fff" stroke="#FF801A" stroke-width="4"/>
<circle cx="1667.64" cy="420.77" r="13.4" fill="#fff" stroke="#FF801A" stroke-width="4"/>
<circle cx="1687.35" cy="421.55" r="13.4" fill="#fff" stroke="#FF801A" stroke-width="4"/>
<circle cx="1707.06" cy="422.33" r="13.4" fill="#fff" stroke="#FF801A" stroke-width="4"/>
<circle cx="1726.76" cy="423.11" r="13.4" fill="#fff" stroke="#FF801A" stroke-width="4"/>
<circle cx="1746.47" cy="423.9" r="13.4" fill="#fff" stroke="#FF801A" stroke-width="4"/>
<circle cx="1766.17" cy="424.68" r="13.4" fill="#fff" stroke="#FF801A" stroke-width="4"/>
<circle cx="1785.88" cy="425.46" r="13.4" fill="#fff" stroke="#FF801A" stroke-width="4"/>
<circle cx="1805.59" cy="424.93" r="13.4" fill="#fff" stroke="#FF801A" stroke-width="4"/>
<circle cx="1825.29" cy="424.4" r="13.4" fill="#fff" stroke="#FF801A" stroke-width="4"/>
<circle cx="1845" cy="423.88" r="13.4" fill="#fff" stroke="#FF801A" stroke-width="4"/>
<circle cx="1864.7" cy="426.03" r="13.4" fill="#fff" stroke="#FF801A" stroke-width="4"/>
<circle cx="1884.41" cy="428.18" r="13.4" fill="#fff" stroke="#FF801A" stroke-width="4"/>
<circle cx="1904.12" cy="430.34" r="13.4" fill="#fff" stroke="#FF801A" stroke-width="4"/>
<circle cx="1923.82" cy="432.49" r="13.4" fill="#fff" stroke="#FF801A" stroke-width="4"/>
<circle cx="1943.53" cy="434.65" r="13.4" fill="#fff" stroke="#FF801A" stroke-width="4"/>
<circle cx="1963.23" cy="434.75" r="13.4" fill="#fff" stroke="#FF801A" stroke-width="4"/>
<circle cx="1982.94" cy="434.86" r="13.4" fill="#fff" stroke="#FF801A" stroke-width="4"/>
<circle cx="2002.65" cy="434.96" r="13.4" fill="#fff" stroke="#FF801A" stroke-width="4"/>
<circle cx="2022.35" cy="435.07" r="13.4" fill="#fff" stroke="#FF801A" stroke-width="4"/>
<circle cx="2042.06" cy="435.18" r="13.4" fill="#fff" stroke="#FF801A" stroke-width="4"/>
<circle cx="2061.76" cy="435.28" r="13.4" fill="#fff" stroke="#FF801A" stroke-width="4"/>
<circle cx="2081.47" cy="435.39" r="13.4" fill="#fff" stroke="#FF801A" stroke-width="4"/>
<circle cx="2101.18" cy="435.49" r="13.4" fill="#fff" stroke="#FF801A" stroke-width="4"/>
<circle cx="2120.88" cy="435.6" r="13.4" fill="#fff" stroke="#FF801A" stroke-width="4"/>
<circle cx="2140.59" cy="435.7" r="13.4" fill="#fff" stroke="#FF801A" stroke-width="4"/>
<circle cx="2160.29" cy="435.81" r="13.4" fill="#fff" stroke="#FF801A" stroke-width="4"/>
<circle cx="2180" cy="435.92" r="13.4" fill="#fff" stroke="#FF801A" stroke-width="4"/>
<path d="M229.11,318.05L246.31,347.84L211.91,347.84Z" fill="#00AD63" stroke="#00AD63" stroke-width="4" stroke-linejoin="round"/>
<path d="M248.81,316.78L266.01,346.57L231.61,346.57Z" fill="#00AD63" stroke="#00AD63" stroke-width="4" stroke-linejoin="round"/>
<path d="M268.52,315.83L285.72,345.62L251.32,345.62Z" fill="#00AD63" stroke="#00AD63" stroke-width="4" stroke-linejoin="round"/>
<path d="M288.22,315.83L305.42,345.62L271.02,345.62Z" fill="#00AD63" stroke="#00AD63" stroke-width="4" stroke-linejoin="round"/>
<path d="M307.93,319.31L325.13,349.1L290.73,349.1Z" fill="#00AD63" stroke="#00AD63" stroke-width="4" stroke-linejoin="round"/>
<path d="M327.64,319.31L344.84,349.1L310.44,349.1Z" fill="#00AD63" stroke="#00AD63" stroke-width="4" stroke-linejoin="round"/>
<path d="M347.34,319.31L364.54,349.1L330.14,349.1Z" fill="#00AD63" stroke="#00AD63" stroke-width="4" stroke-linejoin="round"/>
<path d="M367.05,343.71L384.25,373.5L349.85,373.5Z" fill="#00AD63" stroke="#00AD63" stroke-width="4" stroke-linejoin="round"/>
<path d="M386.75,343.71L403.95,373.5L369.55,373.5Z" fill="#00AD63" stroke="#00AD63" stroke-width="4" stroke-linejoin="round"/>
<path d="M406.46,343.71L423.66,373.5L389.26,373.5Z" fill="#00AD63" stroke="#00AD63" stroke-width="4" stroke-linejoin="round"/>
<path d="M426.17,343.71L443.37,373.5L408.97,373.5Z" fill="#00AD63" stroke="#00AD63" stroke-width="4" stroke-linejoin="round"/>
<path d="M445.87,343.71L463.07,373.5L428.67,373.5Z" fill="#00AD63" stroke="#00AD63" stroke-width="4" stroke-linejoin="round"/>
<path d="M465.58,343.71L482.78,373.5L448.38,373.5Z" fill="#00AD63" stroke="#00AD63" stroke-width="4" stroke-linejoin="round"/>
<path d="M485.28,343.71L502.48,373.5L468.08,373.5Z" fill="#00AD63" stroke="#00AD63" stroke-width="4" stroke-linejoin="round"/>
<path d="M504.99,370.33L522.19,400.12L487.79,400.12Z" fill="#00AD63" stroke="#00AD63" stroke-width="4" stroke-linejoin="round"/>
<path d="M524.7,370.64L541.9,400.43L507.5,400.43Z" fill="#00AD63" stroke="#00AD63" stroke-width="4" stroke-linejoin="round"/>
<path d="M544.4,370.96L561.6,400.75L527.2,400.75Z" fill="#00AD63" stroke="#00AD63" stroke-width="4" stroke-linejoin="round"/>
<path d="M564.11,371.28L581.31,401.07L546.91,401.07Z" fill="#00AD63" stroke="#00AD63" stroke-width="4" stroke-linejoin="round"/>
<path d="M583.81,371.59L601.01,401.38L566.61,401.38Z" fill="#00AD63" stroke="#00AD63" stroke-width="4" stroke-linejoin="round"/>
<path d="M603.52,373.18L620.72,402.97L586.32,402.97Z" fill="#00AD63" stroke="#00AD63" stroke-width="4" stroke-linejoin="round"/>
<path d="M623.23,373.18L640.43,402.97L606.03,402.97Z" fill="#00AD63" stroke="#00AD63" stroke-width="4" stroke-linejoin="round"/>
<path d="M642.93,410.25L660.13,440.04L625.73,440.04Z" fill="#00AD63" stroke="#00AD63" stroke-width="4" stroke-linejoin="round"/>
<path d="M662.64,410.99L679.84,440.78L645.44,440.78Z" fill="#00AD63" stroke="#00AD63" stroke-width="4" stroke-linejoin="round"/>
<path d="M682.34,411.73L699.54,441.52L665.14,441.52Z" fill="#00AD63" stroke="#00AD63" stroke-width="4" stroke-linejoin="round"/>
<path d="M702.05,412.47L719.25,442.26L684.85,442.26Z" fill="#00AD63" stroke="#00AD63" stroke-width="4" stroke-linejoin="round"/>
<path d="M721.76,413.2L738.96,443L704.56,443Z" fill="#00AD63" stroke="#00AD63" stroke-width="4" stroke-linejoin="round"/>
<path d="M741.46,413.94L758.66,443.73L724.26,443.73Z" fill="#00AD63" stroke="#00AD63" stroke-width="4" stroke-linejoin="round"/>
<path d="M761.17,414.68L778.37,444.47L743.97,444.47Z" fill="#00AD63" stroke="#00AD63" stroke-width="4" stroke-linejoin="round"/>
<path d="M780.87,467.91L798.07,497.7L763.67,497.7Z" fill="#00AD63" stroke="#00AD63" stroke-width="4" stroke-linejoin="round"/>
<path d="M800.58,468.55L817.78,498.34L783.38,498.34Z" fill="#00AD63" stroke="#00AD63" stroke-width="4" stroke-linejoin="round"/>
<path d="M820.29,469.18L837.49,498.97L803.09,498.97Z" fill="#00AD63" stroke="#00AD63" stroke-width="4" stroke-linejoin="round"/>
<path d="M839.99,469.81L857.19,499.6L822.79,499.6Z" fill="#00AD63" stroke="#00AD63" stroke-width="4" stroke-linejoin="round"/>
<path d="M859.7,470.45L876.9,500.24L842.5,500.24Z" fill="#00AD63" stroke="#00AD63" stroke-width="4" stroke-linejoin="round"/>
<path d="M879.4,471.08L896.6,500.87L862.2,500.87Z" fill="#00AD63" stroke="#00AD63" stroke-width="4" stroke-linejoin="round"/>
<path d="M899.11,471.71L916.31,501.5L881.91,501.5Z" fill="#00AD63" stroke="#00AD63" stroke-width="4" stroke-linejoin="round"/>
<path d="M918.82,503.08L936.02,532.87L901.62,532.87Z" fill="#00AD63" stroke="#00AD63" stroke-width="4" stroke-linejoin="round"/>
<path d="M938.52,503.4L955.72,533.19L921.32,533.19Z" fill="#00AD63" stroke="#00AD63" stroke-width="4" stroke-linejoin="round"/>
<path d="M958.23,503.72L975.43,533.51L941.03,533.51Z" fill="#00AD63" stroke="#00AD63" stroke-width="4" stroke-linejoin="round"/>
<path d="M977.93,504.03L995.13,533.82L960.73,533.82Z" fill="#00AD63" stroke="#00AD63" stroke-width="4" stroke-linejoin="round"/>
<path d="M997.64,504.35L1014.84,534.14L980.44,534.14Z" fill="#00AD63" stroke="#00AD63" stroke-width="4" stroke-linejoin="round"/>
<path d="M1017.35,504.67L1034.55,534.46L1000.15,534.46Z" fill="#00AD63" stroke="#00AD63" stroke-width="4" stroke-linejoin="round"/>
<path d="M1037.05,504.98L1054.25,534.77L1019.85,534.77Z" fill="#00AD63" stroke="#00AD63" stroke-width="4" stroke-linejoin="round"/>
<path d="M1056.76,318.68L1073.96,348.47L1039.56,348.47Z" fill="#00AD63" stroke="#00AD63" stroke-width="4" stroke-linejoin="round"/>
<path d="M1076.46,320.58L1093.66,350.37L1059.26,350.37Z" fill="#00AD63" stroke="#00AD63" stroke-width="4" stroke-linejoin="round"/>
<path d="M1096.17,322.17L1113.37,351.96L1078.97,351.96Z" fill="#00AD63" stroke="#00AD63" stroke-width="4" stroke-linejoin="round"/>
<path d="M1115.88,318.68L1133.08,348.47L1098.68,348.47Z" fill="#00AD63" stroke="#00AD63" stroke-width="4" stroke-linejoin="round"/>
<path d="M1135.58,318.68L1152.78,348.47L1118.38,348.47Z" fill="#00AD63" stroke="#00AD63" stroke-width="4" stroke-linejoin="round"/>
<path d="M1155.29,321.22L1172.49,351.01L1138.09,351.01Z" fill="#00AD63" stroke="#00AD63" stroke-width="4" stroke-linejoin="round"/>
<path d="M1174.99,322.17L1192.19,351.96L1157.79,351.96Z" fill="#00AD63" stroke="#00AD63" stroke-width="4" stroke-linejoin="round"/>
<path d="M1194.7,353.22L1211.9,383.01L1177.5,383.01Z" fill="#00AD63" stroke="#00AD63" stroke-width="4" stroke-linejoin="round"/>
<path d="M1214.41,372.54L1231.61,402.33L1197.21,402.33Z" fill="#00AD63" stroke="#00AD63" stroke-width="4" stroke-linejoin="round"/>
<path d="M1234.11,373.14L1251.31,402.93L1216.91,402.93Z" fill="#00AD63" stroke="#00AD63" stroke-width="4" stroke-linejoin="round"/>
<path d="M1253.82,373.74L1271.02,403.53L1236.62,403.53Z" fill="#00AD63" stroke="#00AD63" stroke-width="4" stroke-linejoin="round"/>
<path d="M1273.52,374.34L1290.72,404.13L1256.32,404.13Z" fill="#00AD63" stroke="#00AD63" stroke-width="4" stroke-linejoin="round"/>
<path d="M1293.23,374.94L1310.43,404.73L1276.03,404.73Z" fill="#00AD63" stroke="#00AD63" stroke-width="4" stroke-linejoin="round"/>
<path d="M1312.94,375.54L1330.14,405.33L1295.74,405.33Z" fill="#00AD63" stroke="#00AD63" stroke-width="4" stroke-linejoin="round"/>
<path d="M1332.64,376.13L1349.84,405.92L1315.44,405.92Z" fill="#00AD63" stroke="#00AD63" stroke-width="4" stroke-linejoin="round"/>
<path d="M1352.35,376.73L1369.55,406.52L1335.15,406.52Z" fill="#00AD63" stroke="#00AD63" stroke-width="4" stroke-linejoin="round"/>
<path d="M1372.05,377.33L1389.25,407.12L1354.85,407.12Z" fill="#00AD63" stroke="#00AD63" stroke-width="4" stroke-linejoin="round"/>
<path d="M1391.76,377.93L1408.96,407.72L1374.56,407.72Z" fill="#00AD63" stroke="#00AD63" stroke-width="4" stroke-linejoin="round"/>
<path d="M1411.47,378.18L1428.67,407.97L1394.27,407.97Z" fill="#00AD63" stroke="#00AD63" stroke-width="4" stroke-linejoin="round"/>
<path d="M1431.17,378.44L1448.37,408.23L1413.97,408.23Z" fill="#00AD63" stroke="#00AD63" stroke-width="4" stroke-linejoin="round"/>
<path d="M1450.88,378.69L1468.08,408.48L1433.68,408.48Z" fill="#00AD63" stroke="#00AD63" stroke-width="4" stroke-linejoin="round"/>
<path d="M1470.58,378.94L1487.78,408.73L1453.38,408.73Z" fill="#00AD63" stroke="#00AD63" stroke-width="4" stroke-linejoin="round"/>
<path d="M1490.29,379.2L1507.49,408.99L1473.09,408.99Z" fill="#00AD63" stroke="#00AD63" stroke-width="4" stroke-linejoin="round"/>
<path d="M1510,379.36L1527.2,409.15L1492.8,409.15Z" fill="#00AD63" stroke="#00AD63" stroke-width="4" stroke-linejoin="round"/>
<path d="M1529.7,379.51L1546.9,409.3L1512.5,409.3Z" fill="#00AD63" stroke="#00AD63" stroke-width="4" stroke-linejoin="round"/>
<path d="M1549.41,379.67L1566.61,409.46L1532.21,409.46Z" fill="#00AD63" stroke="#00AD63" stroke-width="4" stroke-linejoin="round"/>
<path d="M1569.11,379.83L1586.31,409.62L1551.91,409.62Z" fill="#00AD63" stroke="#00AD63" stroke-width="4" stroke-linejoin="round"/>
<path d="M1588.82,379.99L1606.02,409.78L1571.62,409.78Z" fill="#00AD63" stroke="#00AD63" stroke-width="4" stroke-linejoin="round"/>
<path d="M1608.53,380.15L1625.73,409.94L1591.33,409.94Z" fill="#00AD63" stroke="#00AD63" stroke-width="4" stroke-linejoin="round"/>
<path d="M1628.23,380.31L1645.43,410.1L1611.03,410.1Z" fill="#00AD63" stroke="#00AD63" stroke-width="4" stroke-linejoin="round"/>
<path d="M1647.94,380.46L1665.14,410.25L1630.74,410.25Z" fill="#00AD63" stroke="#00AD63" stroke-width="4" stroke-linejoin="round"/>
<path d="M1667.64,380.62L1684.84,410.41L1650.44,410.41Z" fill="#00AD63" stroke="#00AD63" stroke-width="4" stroke-linejoin="round"/>
<path d="M1687.35,380.78L1704.55,410.57L1670.15,410.57Z" fill="#00AD63" stroke="#00AD63" stroke-width="4" stroke-linejoin="round"/>
<path d="M1707.06,380.94L1724.26,410.73L1689.86,410.73Z" fill="#00AD63" stroke="#00AD63" stroke-width="4" stroke-linejoin="round"/>
<path d="M1726.76,381.1L1743.96,410.89L1709.56,410.89Z" fill="#00AD63" stroke="#00AD63" stroke-width="4" stroke-linejoin="round"/>
<path d="M1746.47,381.26L1763.67,411.05L1729.27,411.05Z" fill="#00AD63" stroke="#00AD63" stroke-width="4" stroke-linejoin="round"/>
<path d="M1766.17,381.42L1783.37,411.21L1748.97,411.21Z" fill="#00AD63" stroke="#00AD63" stroke-width="4" stroke-linejoin="round"/>
<path d="M1785.88,381.57L1803.08,411.36L1768.68,411.36Z" fill="#00AD63" stroke="#00AD63" stroke-width="4" stroke-linejoin="round"/>
<path d="M1805.59,381.73L1822.79,411.52L1788.39,411.52Z" fill="#00AD63" stroke="#00AD63" stroke-width="4" stroke-linejoin="round"/>
<path d="M1825.29,381.89L1842.49,411.68L1808.09,411.68Z" fill="#00AD63" stroke="#00AD63" stroke-width="4" stroke-linejoin="round"/>
<path d="M1845,382.05L1862.2,411.84L1827.8,411.84Z" fill="#00AD63" stroke="#00AD63" stroke-width="4" stroke-linejoin="round"/>
<path d="M1864.7,382.25L1881.9,412.04L1847.5,412.04Z" fill="#00AD63" stroke="#00AD63" stroke-width="4" stroke-linejoin="round"/>
<path d="M1884.41,382.46L1901.61,412.25L1867.21,412.25Z" fill="#00AD63" stroke="#00AD63" stroke-width="4" stroke-linejoin="round"/>
<path d="M1904.12,382.66L1921.32,412.45L1886.92,412.45Z" fill="#00AD63" stroke="#00AD63" stroke-width="4" stroke-linejoin="round"/>
<path d="M1923.82,382.87L1941.02,412.66L1906.62,412.66Z" fill="#00AD63" stroke="#00AD63" stroke-width="4" stroke-linejoin="round"/>
<path d="M1943.53,383.07L1960.73,412.86L1926.33,412.86Z" fill="#00AD63" stroke="#00AD63" stroke-width="4" stroke-linejoin="round"/>
<path d="M1963.23,383.28L1980.43,413.07L1946.03,413.07Z" fill="#00AD63" stroke="#00AD63" stroke-width="4" stroke-linejoin="round"/>
<path d="M1982.94,383.48L2000.14,413.27L1965.74,413.27Z" fill="#00AD63" stroke="#00AD63" stroke-width="4" stroke-linejoin="round"/>
<path d="M2002.65,383.69L2019.85,413.48L1985.45,413.48Z" fill="#00AD63" stroke="#00AD63" stroke-width="4" stroke-linejoin="round"/>
<path d="M2022.35,383.89L2039.55,413.68L2005.15,413.68Z" fill="#00AD63" stroke="#00AD63" stroke-width="4" stroke-linejoin="round"/>
<path d="M2042.06,384.1L2059.26,413.89L2024.86,413.89Z" fill="#00AD63" stroke="#00AD63" stroke-width="4" stroke-linejoin="round"/>
<path d="M2061.76,384.3L2078.96,414.09L2044.56,414.09Z" fill="#00AD63" stroke="#00AD63" stroke-width="4" stroke-linejoin="round"/>
<path d="M2081.47,384.51L2098.67,414.3L2064.27,414.3Z" fill="#00AD63" stroke="#00AD63" stroke-width="4" stroke-linejoin="round"/>
<path d="M2101.18,384.71L2118.38,414.5L2083.98,414.5Z" fill="#00AD63" stroke="#00AD63" stroke-width="4" stroke-linejoin="round"/>
<path d="M2120.88,384.92L2138.08,414.71L2103.68,414.71Z" fill="#00AD63" stroke="#00AD63" stroke-width="4" stroke-linejoin="round"/>
<path d="M2140.59,385.12L2157.79,414.91L2123.39,414.91Z" fill="#00AD63" stroke="#00AD63" stroke-width="4" stroke-linejoin="round"/>
<path d="M2160.29,385.33L2177.49,415.12L2143.09,415.12Z" fill="#00AD63" stroke="#00AD63" stroke-width="4" stroke-linejoin="round"/>
<path d="M2180,385.53L2197.2,415.32L2162.8,415.32Z" fill="#00AD63" stroke="#00AD63" stroke-width="4" stroke-linejoin="round"/>
<path d="M229.11,326.6L246.31,356.39L211.91,356.39Z" fill="#fff" stroke="#00AD63" stroke-width="4" stroke-linejoin="round"/>
<path d="M248.81,317.1L266.01,346.89L231.61,346.89Z" fill="#fff" stroke="#00AD63" stroke-width="4" stroke-linejoin="round"/>
<path d="M268.52,319.63L285.72,349.42L251.32,349.42Z" fill="#fff" stroke="#00AD63" stroke-width="4" stroke-linejoin="round"/>
<path d="M288.22,319.63L305.42,349.42L271.02,349.42Z" fill="#fff" stroke="#00AD63" stroke-width="4" stroke-linejoin="round"/>
<path d="M307.93,319.63L325.13,349.42L290.73,349.42Z" fill="#fff" stroke="#00AD63" stroke-width="4" stroke-linejoin="round"/>
<path d="M327.64,320.26L344.84,350.06L310.44,350.06Z" fill="#fff" stroke="#00AD63" stroke-width="4" stroke-linejoin="round"/>
<path d="M347.34,322.17L364.54,351.96L330.14,351.96Z" fill="#fff" stroke="#00AD63" stroke-width="4" stroke-linejoin="round"/>
<path d="M367.05,344.66L384.25,374.45L349.85,374.45Z" fill="#fff" stroke="#00AD63" stroke-width="4" stroke-linejoin="round"/>
<path d="M386.75,344.66L403.95,374.45L369.55,374.45Z" fill="#fff" stroke="#00AD63" stroke-width="4" stroke-linejoin="round"/>
<path d="M406.46,344.66L423.66,374.45L389.26,374.45Z" fill="#fff" stroke="#00AD63" stroke-width="4" stroke-linejoin="round"/>
<path d="M426.17,344.66L443.37,374.45L408.97,374.45Z" fill="#fff" stroke="#00AD63" stroke-width="4" stroke-linejoin="round"/>
<path d="M445.87,344.66L463.07,374.45L428.67,374.45Z" fill="#fff" stroke="#00AD63" stroke-width="4" stroke-linejoin="round"/>
<path d="M465.58,344.66L482.78,374.45L448.38,374.45Z" fill="#fff" stroke="#00AD63" stroke-width="4" stroke-linejoin="round"/>
<path d="M485.28,344.66L502.48,374.45L468.08,374.45Z" fill="#fff" stroke="#00AD63" stroke-width="4" stroke-linejoin="round"/>
<path d="M504.99,371.28L522.19,401.07L487.79,401.07Z" fill="#fff" stroke="#00AD63" stroke-width="4" stroke-linejoin="round"/>
<path d="M524.7,371.59L541.9,401.38L507.5,401.38Z" fill="#fff" stroke="#00AD63" stroke-width="4" stroke-linejoin="round"/>
<path d="M544.4,371.91L561.6,401.7L527.2,401.7Z" fill="#fff" stroke="#00AD63" stroke-width="4" stroke-linejoin="round"/>
<path d="M564.11,372.23L581.31,402.02L546.91,402.02Z" fill="#fff" stroke="#00AD63" stroke-width="4" stroke-linejoin="round"/>
<path d="M583.81,372.54L601.01,402.33L566.61,402.33Z" fill="#fff" stroke="#00AD63" stroke-width="4" stroke-linejoin="round"/>
<path d="M603.52,374.13L620.72,403.92L586.32,403.92Z" fill="#fff" stroke="#00AD63" stroke-width="4" stroke-linejoin="round"/>
<path d="M623.23,374.13L640.43,403.92L606.03,403.92Z" fill="#fff" stroke="#00AD63" stroke-width="4" stroke-linejoin="round"/>
<path d="M642.93,411.2L660.13,440.99L625.73,440.99Z" fill="#fff" stroke="#00AD63" stroke-width="4" stroke-linejoin="round"/>
<path d="M662.64,411.94L679.84,441.73L645.44,441.73Z" fill="#fff" stroke="#00AD63" stroke-width="4" stroke-linejoin="round"/>
<path d="M682.34,412.68L699.54,442.47L665.14,442.47Z" fill="#fff" stroke="#00AD63" stroke-width="4" stroke-linejoin="round"/>
<path d="M702.05,413.42L719.25,443.21L684.85,443.21Z" fill="#fff" stroke="#00AD63" stroke-width="4" stroke-linejoin="round"/>
<path d="M721.76,414.16L738.96,443.95L704.56,443.95Z" fill="#fff" stroke="#00AD63" stroke-width="4" stroke-linejoin="round"/>
<path d="M741.46,414.89L758.66,444.68L724.26,444.68Z" fill="#fff" stroke="#00AD63" stroke-width="4" stroke-linejoin="round"/>
<path d="M761.17,415.63L778.37,445.42L743.97,445.42Z" fill="#fff" stroke="#00AD63" stroke-width="4" stroke-linejoin="round"/>
<path d="M780.87,468.86L798.07,498.65L763.67,498.65Z" fill="#fff" stroke="#00AD63" stroke-width="4" stroke-linejoin="round"/>
<path d="M800.58,469.5L817.78,499.29L783.38,499.29Z" fill="#fff" stroke="#00AD63" stroke-width="4" stroke-linejoin="round"/>
<path d="M820.29,470.13L837.49,499.92L803.09,499.92Z" fill="#fff" stroke="#00AD63" stroke-width="4" stroke-linejoin="round"/>
<path d="M839.99,470.76L857.19,500.55L822.79,500.55Z" fill="#fff" stroke="#00AD63" stroke-width="4" stroke-linejoin="round"/>
<path d="M859.7,471.4L876.9,501.19L842.5,501.19Z" fill="#fff" stroke="#00AD63" stroke-width="4" stroke-linejoin="round"/>
<path d="M879.4,472.03L896.6,501.82L862.2,501.82Z" fill="#fff" stroke="#00AD63" stroke-width="4" stroke-linejoin="round"/>
<path d="M899.11,472.67L916.31,502.46L881.91,502.46Z" fill="#fff" stroke="#00AD63" stroke-width="4" stroke-linejoin="round"/>
<path d="M918.82,504.03L936.02,533.82L901.62,533.82Z" fill="#fff" stroke="#00AD63" stroke-width="4" stroke-linejoin="round"/>
<path d="M938.52,504.35L955.72,534.14L921.32,534.14Z" fill="#fff" stroke="#00AD63" stroke-width="4" stroke-linejoin="round"/>
<path d="M958.23,504.67L975.43,534.46L941.03,534.46Z" fill="#fff" stroke="#00AD63" stroke-width="4" stroke-linejoin="round"/>
<path d="M977.93,504.98L995.13,534.77L960.73,534.77Z" fill="#fff" stroke="#00AD63" stroke-width="4" stroke-linejoin="round"/>
<path d="M997.64,505.3L1014.84,535.09L980.44,535.09Z" fill="#fff" stroke="#00AD63" stroke-width="4" stroke-linejoin="round"/>
<path d="M1017.35,505.62L1034.55,535.41L1000.15,535.41Z" fill="#fff" stroke="#00AD63" stroke-width="4" stroke-linejoin="round"/>
<path d="M1037.05,505.93L1054.25,535.72L1019.85,535.72Z" fill="#fff" stroke="#00AD63" stroke-width="4" stroke-linejoin="round"/>
<path d="M1056.76,322.17L1073.96,351.96L1039.56,351.96Z" fill="#fff" stroke="#00AD63" stroke-width="4" stroke-linejoin="round"/>
<path d="M1076.46,322.48L1093.66,352.27L1059.26,352.27Z" fill="#fff" stroke="#00AD63" stroke-width="4" stroke-linejoin="round"/>
<path d="M1096.17,323.12L1113.37,352.91L1078.97,352.91Z" fill="#fff" stroke="#00AD63" stroke-width="4" stroke-linejoin="round"/>
<path d="M1115.88,324.07L1133.08,353.86L1098.68,353.86Z" fill="#fff" stroke="#00AD63" stroke-width="4" stroke-linejoin="round"/>
<path d="M1135.58,325.33L1152.78,355.12L1118.38,355.12Z" fill="#fff" stroke="#00AD63" stroke-width="4" stroke-linejoin="round"/>
<path d="M1155.29,324.7L1172.49,354.49L1138.09,354.49Z" fill="#fff" stroke="#00AD63" stroke-width="4" stroke-linejoin="round"/>
<path d="M1174.99,325.33L1192.19,355.12L1157.79,355.12Z" fill="#fff" stroke="#00AD63" stroke-width="4" stroke-linejoin="round"/>
<path d="M1194.7,372.23L1211.9,402.02L1177.5,402.02Z" fill="#fff" stroke="#00AD63" stroke-width="4" stroke-linejoin="round"/>
<path d="M1214.41,375.08L1231.61,404.87L1197.21,404.87Z" fill="#fff" stroke="#00AD63" stroke-width="4" stroke-linejoin="round"/>
<path d="M1234.11,375.68L1251.31,405.47L1216.91,405.47Z" fill="#fff" stroke="#00AD63" stroke-width="4" stroke-linejoin="round"/>
<path d="M1253.82,376.28L1271.02,406.07L1236.62,406.07Z" fill="#fff" stroke="#00AD63" stroke-width="4" stroke-linejoin="round"/>
<path d="M1273.52,376.87L1290.72,406.66L1256.32,406.66Z" fill="#fff" stroke="#00AD63" stroke-width="4" stroke-linejoin="round"/>
<path d="M1293.23,377.47L1310.43,407.26L1276.03,407.26Z" fill="#fff" stroke="#00AD63" stroke-width="4" stroke-linejoin="round"/>
<path d="M1312.94,378.07L1330.14,407.86L1295.74,407.86Z" fill="#fff" stroke="#00AD63" stroke-width="4" stroke-linejoin="round"/>
<path d="M1332.64,378.67L1349.84,408.46L1315.44,408.46Z" fill="#fff" stroke="#00AD63" stroke-width="4" stroke-linejoin="round"/>
<path d="M1352.35,379.27L1369.55,409.06L1335.15,409.06Z" fill="#fff" stroke="#00AD63" stroke-width="4" stroke-linejoin="round"/>
<path d="M1372.05,379.87L1389.25,409.66L1354.85,409.66Z" fill="#fff" stroke="#00AD63" stroke-width="4" stroke-linejoin="round"/>
<path d="M1391.76,380.46L1408.96,410.25L1374.56,410.25Z" fill="#fff" stroke="#00AD63" stroke-width="4" stroke-linejoin="round"/>
<path d="M1411.47,380.72L1428.67,410.51L1394.27,410.51Z" fill="#fff" stroke="#00AD63" stroke-width="4" stroke-linejoin="round"/>
<path d="M1431.17,380.97L1448.37,410.76L1413.97,410.76Z" fill="#fff" stroke="#00AD63" stroke-width="4" stroke-linejoin="round"/>
<path d="M1450.88,381.22L1468.08,411.02L1433.68,411.02Z" fill="#fff" stroke="#00AD63" stroke-width="4" stroke-linejoin="round"/>
<path d="M1470.58,381.48L1487.78,411.27L1453.38,411.27Z" fill="#fff" stroke="#00AD63" stroke-width="4" stroke-linejoin="round"/>
<path d="M1490.29,381.73L1507.49,411.52L1473.09,411.52Z" fill="#fff" stroke="#00AD63" stroke-width="4" stroke-linejoin="round"/>
<path d="M1510,381.89L1527.2,411.68L1492.8,411.68Z" fill="#fff" stroke="#00AD63" stroke-width="4" stroke-linejoin="round"/>
<path d="M1529.7,382.05L1546.9,411.84L1512.5,411.84Z" fill="#fff" stroke="#00AD63" stroke-width="4" stroke-linejoin="round"/>
<path d="M1549.41,382.21L1566.61,412L1532.21,412Z" fill="#fff" stroke="#00AD63" stroke-width="4" stroke-linejoin="round"/>
<path d="M1569.11,382.37L1586.31,412.16L1551.91,412.16Z" fill="#fff" stroke="#00AD63" stroke-width="4" stroke-linejoin="round"/>
<path d="M1588.82,382.52L1606.02,412.31L1571.62,412.31Z" fill="#fff" stroke="#00AD63" stroke-width="4" stroke-linejoin="round"/>
<path d="M1608.53,382.68L1625.73,412.47L1591.33,412.47Z" fill="#fff" stroke="#00AD63" stroke-width="4" stroke-linejoin="round"/>
<path d="M1628.23,382.84L1645.43,412.63L1611.03,412.63Z" fill="#fff" stroke="#00AD63" stroke-width="4" stroke-linejoin="round"/>
<path d="M1647.94,383L1665.14,412.79L1630.74,412.79Z" fill="#fff" stroke="#00AD63" stroke-width="4" stroke-linejoin="round"/>
<path d="M1667.64,383.16L1684.84,412.95L1650.44,412.95Z" fill="#fff" stroke="#00AD63" stroke-width="4" stroke-linejoin="round"/>
<path d="M1687.35,383.32L1704.55,413.11L1670.15,413.11Z" fill="#fff" stroke="#00AD63" stroke-width="4" stroke-linejoin="round"/>
<path d="M1707.06,383.47L1724.26,413.26L1689.86,413.26Z" fill="#fff" stroke="#00AD63" stroke-width="4" stroke-linejoin="round"/>
<path d="M1726.76,383.63L1743.96,413.42L1709.56,413.42Z" fill="#fff" stroke="#00AD63" stroke-width="4" stroke-linejoin="round"/>
<path d="M1746.47,383.79L1763.67,413.58L1729.27,413.58Z" fill="#fff" stroke="#00AD63" stroke-width="4" stroke-linejoin="round"/>
<path d="M1766.17,383.95L1783.37,413.74L1748.97,413.74Z" fill="#fff" stroke="#00AD63" stroke-width="4" stroke-linejoin="round"/>
<path d="M1785.88,384.11L1803.08,413.9L1768.68,413.9Z" fill="#fff" stroke="#00AD63" stroke-width="4" stroke-linejoin="round"/>
<path d="M1805.59,384.27L1822.79,414.06L1788.39,414.06Z" fill="#fff" stroke="#00AD63" stroke-width="4" stroke-linejoin="round"/>
<path d="M1825.29,384.43L1842.49,414.22L1808.09,414.22Z" fill="#fff" stroke="#00AD63" stroke-width="4" stroke-linejoin="round"/>
<path d="M1845,384.58L1862.2,414.37L1827.8,414.37Z" fill="#fff" stroke="#00AD63" stroke-width="4" stroke-linejoin="round"/>
<path d="M1864.7,384.79L1881.9,414.58L1847.5,414.58Z" fill="#fff" stroke="#00AD63" stroke-width="4" stroke-linejoin="round"/>
<path d="M1884.41,384.99L1901.61,414.78L1867.21,414.78Z" fill="#fff" stroke="#00AD63" stroke-width="4" stroke-linejoin="round"/>
<path d="M1904.12,385.2L1921.32,414.99L1886.92,414.99Z" fill="#fff" stroke="#00AD63" stroke-width="4" stroke-linejoin="round"/>
<path d="M1923.82,385.4L1941.02,415.19L1906.62,415.19Z" fill="#fff" stroke="#00AD63" stroke-width="4" stroke-linejoin="round"/>
<path d="M1943.53,385.61L1960.73,415.4L1926.33,415.4Z" fill="#fff" stroke="#00AD63" stroke-width="4" stroke-linejoin="round"/>
<path d="M1963.23,385.81L1980.43,415.6L1946.03,415.6Z" fill="#fff" stroke="#00AD63" stroke-width="4" stroke-linejoin="round"/>
<path d="M1982.94,386.02L2000.14,415.81L1965.74,415.81Z" fill="#fff" stroke="#00AD63" stroke-width="4" stroke-linejoin="round"/>
<path d="M2002.65,386.22L2019.85,416.01L1985.45,416.01Z" fill="#fff" stroke="#00AD63" stroke-width="4" stroke-linejoin="round"/>
<path d="M2022.35,386.43L2039.55,416.22L2005.15,416.22Z" fill="#fff" stroke="#00AD63" stroke-width="4" stroke-linejoin="round"/>
<path d="M2042.06,386.63L2059.26,416.42L2024.86,416.42Z" fill="#fff" stroke="#00AD63" stroke-width="4" stroke-linejoin="round"/>
<path d="M2061.76,386.84L2078.96,416.63L2044.56,416.63Z" fill="#fff" stroke="#00AD63" stroke-width="4" stroke-linejoin="round"/>
<path d="M2081.47,387.04L2098.67,416.83L2064.27,416.83Z" fill="#fff" stroke="#00AD63" stroke-width="4" stroke-linejoin="round"/>
<path d="M2101.18,387.25L2118.38,417.04L2083.98,417.04Z" fill="#fff" stroke="#00AD63" stroke-width="4" stroke-linejoin="round"/>
<path d="M2120.88,387.45L2138.08,417.24L2103.68,417.24Z" fill="#fff" stroke="#00AD63" stroke-width="4" stroke-linejoin="round"/>
<path d="M2140.59,387.66L2157.79,417.45L2123.39,417.45Z" fill="#fff" stroke="#00AD63" stroke-width="4" stroke-linejoin="round"/>
<path d="M2160.29,387.86L2177.49,417.65L2143.09,417.65Z" fill="#fff" stroke="#00AD63" stroke-width="4" stroke-linejoin="round"/>
<path d="M2180,388.07L2197.2,417.86L2162.8,417.86Z" fill="#fff" stroke="#00AD63" stroke-width="4" stroke-linejoin="round"/>
</g>
<g font-size="44" fill="#000">
<text transform="translate(238.2,294) scale(1,1.041)">0.2 C</text>
<text transform="translate(375.5,332.3) scale(1,1.041)">0.4 C</text>
<text transform="translate(528.6,359.6) scale(1,1.041)">1 C</text>
<text transform="translate(665.5,400.6) scale(1,1.041)">2 C</text>
<text transform="translate(806.7,452.9) scale(1,1.041)">4 C</text>
<text transform="translate(945.2,492.2) scale(1,1.041)">6 C</text>
<text transform="translate(1057,293.8) scale(1,1.041)">0.2 C</text>
<text transform="translate(1652.8,359.8) scale(1,1.041)">1 C</text>
</g>
<rect x="1329.7" y="643.5" width="27" height="27" rx="1.5" fill="#505050"/>
<rect x="1442" y="645.5" width="23" height="23" fill="#fff" stroke="#505050" stroke-width="4" stroke-linejoin="round"/>
<circle cx="1343.3" cy="717.6" r="15.5" fill="#FF801A"/>
<circle cx="1454" cy="717.6" r="13.5" fill="#fff" stroke="#FF801A" stroke-width="4"/>
<path d="M1343.1,758.5L1360.3,788.3L1325.9,788.3Z" fill="#00AD63" stroke="#00AD63" stroke-width="4" stroke-linejoin="round"/>
<path d="M1453.3,758.5L1470.5,788.3L1436.1,788.3Z" fill="#fff" stroke="#00AD63" stroke-width="4" stroke-linejoin="round"/>
<g font-size="53" fill="#000">
<text transform="translate(1525,674) scale(1,1.041)">Cu foil-Li||LFP</text>
<text transform="translate(1525,734.5) scale(1,1.041)">CNTs@Cu foil-Li||LFP</text>
<text transform="translate(1525,794.5) scale(1,1.041)">Au@CNTs@Cu foil-Li||LFP</text>
</g>
<rect x="33.5" y="965" width="78" height="78" fill="#000"/>
<text x="74.3" y="1036" font-family='"Liberation Serif", "Times New Roman", serif' font-size="86" fill="#fff" text-anchor="middle">b</text>
<g fill="none" stroke-width="3.4" stroke-linejoin="round" stroke-linecap="butt">
<path d="M177.18,1421.7 C178.05,1389.05 178.77,1355.24 179.79,1323.77 C180.75,1294.47 179.88,1254.71 183.06,1238.9 C184.35,1232.5 185.73,1228.38 187.95,1225.85 C189.35,1224.25 189.83,1224 192.85,1223.24 C212.64,1218.23 381.61,1222.29 431.13,1221.93 C453.56,1221.77 460.14,1221.76 480,1221.49 C511.04,1221.06 569.11,1220.79 599.3,1219.25 C617.81,1218.31 630.67,1217.41 644.03,1215.52 C655.03,1213.97 664.84,1211.74 673.86,1209.56 C681.47,1207.71 688.26,1206.59 694.73,1203.59 C701.18,1200.61 707.56,1196.31 712.63,1191.66 C717.4,1187.29 721.14,1182.28 724.56,1176.75 C728.17,1170.91 730.96,1164.27 733.5,1157.37 C736.25,1149.93 738.45,1142.58 740.21,1133.51 C742.47,1121.91 743.86,1104.49 744.69,1093.24 C745.28,1085.17 744.48,1077.16 745.43,1072.37 C745.96,1069.72 746.93,1068.39 747.67,1066.4" stroke="#555555"/>
<path d="M177.18,1291.13 C178.05,1273.72 178.17,1250.92 179.79,1238.9 C180.66,1232.46 180.9,1226.61 183.06,1224.22 C184.32,1222.81 185.05,1223.07 187.95,1222.58 C206.47,1219.48 344.67,1222.17 398.49,1220.3 C432,1219.14 453.44,1217.36 480,1215.52 C505.42,1213.76 532.94,1212.57 554.56,1209.56 C571.44,1207.2 586.05,1204.55 599.3,1200.61 C610.41,1197.31 621.22,1193.6 629.12,1188.68 C635.36,1184.8 639.47,1180.45 644.03,1175.26 C648.98,1169.64 653.51,1162.75 657.45,1155.88 C661.49,1148.85 664.85,1140.91 667.89,1133.51 C670.77,1126.5 673.31,1119.37 675.35,1112.63 C677.21,1106.48 678.68,1100.46 679.82,1094.74 C680.85,1089.56 681.29,1084.66 682.06,1079.82 C682.79,1075.23 683.55,1070.88 684.29,1066.4" stroke="#FF3B3B"/>
<path d="M177.18,1225.85 C179.14,1223.67 180.8,1220.13 183.06,1219.32 C185.01,1218.62 185.98,1220.03 189.58,1220.3 C206.39,1221.55 285.1,1221.93 333.21,1220.3 C381.9,1218.64 445.32,1215.22 480,1210.3 C499.34,1207.56 510.77,1205.4 524.74,1200.61 C538.01,1196.06 551.42,1189.07 562.02,1182.72 C570.7,1177.51 577.87,1171.91 584.38,1166.31 C590.07,1161.44 594.84,1156.84 599.3,1151.4 C603.8,1145.91 607.74,1139.73 611.23,1133.51 C614.7,1127.3 617.49,1120.89 620.17,1114.12 C622.99,1107.01 625.5,1098.47 627.63,1091.75 C629.36,1086.3 630.2,1081.27 632.1,1076.84 C633.77,1072.95 636.08,1069.88 638.07,1066.4" stroke="#FF8818"/>
<path d="M177.18,1212.79 C207.43,1213.34 237.1,1214.4 267.92,1214.42 C299.94,1214.44 336.54,1214.5 365.85,1212.79 C389.84,1211.39 415.05,1209.34 431.13,1206.26 C440.81,1204.41 446.24,1202.68 453.98,1199.73 C462.51,1196.49 471.34,1192.64 480,1187.19 C489.96,1180.92 500.17,1172.18 509.82,1163.33 C520.09,1153.91 531.49,1142.97 539.65,1132.02 C547.1,1122.01 552.3,1110.5 557.54,1100.7 C562.05,1092.27 566.31,1083.17 569.47,1076.84 C571.57,1072.65 572.95,1069.88 574.69,1066.4" stroke="#00A862"/>
<path d="M177.18,1203 L251.6,1207.9 L294.04,1207.9 L336.47,1206.26 L375.64,1199.08 L418.07,1176.23 L457.24,1124.66 L489.89,1065.91" stroke="#0A6BE0"/>
<path d="M177.18,1194.84 L235.28,1199.73 L297.3,1199.73 L326.68,1190.6 L357.69,1181.78 L391.96,1124.66 L414.81,1087.12 L424.6,1065.91" stroke="#C27BE0"/>
<path d="M177.18,1236.29 C181.32,1236.4 182.77,1236.53 189.58,1236.62 C221.64,1237.06 389.14,1235.88 463.77,1236.95 C515.28,1237.68 561.36,1237.35 594.34,1240.54 C614.67,1242.5 628.72,1245.31 643.3,1248.7 C655.38,1251.5 665.8,1253.26 675.94,1258.49 C686.54,1263.96 697.69,1272.03 705.32,1281.34 C712.88,1290.56 718.33,1302.03 721.64,1313.98 C725.21,1326.88 723.01,1342.32 724.9,1356.41 C726.81,1370.61 730.72,1383.71 733.06,1398.85 C735.73,1416.06 738.24,1436.71 739.59,1454.34 C740.81,1470.28 740.68,1484.8 741.22,1500.04" stroke="#555555"/>
<path d="M177.18,1237.27 C250.95,1237.6 339.56,1237.14 398.49,1238.25 C437.7,1238.99 467.21,1237.99 496.41,1241.52 C520.51,1244.43 540.75,1249 561.7,1255.23 C582.05,1261.28 604.88,1268.55 620.45,1278.07 C632.75,1285.59 642.7,1294.04 649.83,1304.19 C656.57,1313.78 659.69,1324.44 662.88,1336.83 C666.79,1351.98 666.89,1370.69 669.41,1389.05 C672.24,1409.62 676.65,1434.49 679.2,1454.34 C681.33,1470.9 682.47,1484.8 684.1,1500.04" stroke="#FF3B3B"/>
<path d="M177.18,1237.27 C179.14,1237.6 179.77,1237.95 183.06,1238.25 C199.57,1239.74 288.5,1239.08 333.21,1240.54 C369.33,1241.71 401.85,1242.51 431.13,1245.43 C455.16,1247.83 474.98,1249.42 496.41,1255.23 C518.53,1261.22 543.95,1272.54 561.7,1281.34 C574.75,1287.81 585.63,1292.22 594.34,1300.92 C603.04,1309.63 609.13,1320.73 613.92,1333.56 C619.75,1349.17 621.05,1369.75 623.71,1389.05 C626.59,1409.88 627.49,1434.56 630.24,1454.34 C632.56,1470.97 635.68,1484.8 638.4,1500.04" stroke="#FF8818"/>
<path d="M177.18,1241.52 C218.31,1242.82 261.83,1243.53 300.57,1245.43 C335.11,1247.13 373.25,1249.02 398.49,1251.96 C414.54,1253.83 424.13,1254.5 437.66,1258.49 C453.34,1263.12 472.59,1272.42 486.62,1279.71 C497.89,1285.56 507.35,1290.85 516,1297.66 C524.07,1304.01 531.13,1309.32 537.22,1318.88 C545.63,1332.08 552.2,1353.64 556.8,1372.73 C561.73,1393.19 562.49,1416.52 564.96,1438.02 C567.37,1458.94 569.31,1479.36 571.49,1500.04" stroke="#00A862"/>
<path d="M177.18,1248.7 L235.28,1251.31 L297.3,1253.59 L339.73,1258.49 L378.9,1268.28 L418.07,1289.5 L455.61,1336.83 L463.77,1382.53 L473.56,1438.02 L484.99,1500.04" stroke="#0A6BE0"/>
<path d="M177.18,1253.59 L235.28,1256.86 L297.3,1263.39 L326.68,1278.07 L357.69,1289.5 L372.38,1336.83 L382.17,1372.73 L405.02,1451.07 L418.07,1500.04" stroke="#C27BE0"/>
</g>
<g stroke="#000" stroke-width="3" fill="none">
<path d="M176.7,1038.6H819.9"/>
<path d="M176.7,1554.4H819.9"/>
<path d="M178.2,1038.6V1554.4"/>
<path d="M818.4,1038.6V1554.4"/>
<path d="M172.7,1554.04H178.2"/>
<path d="M168.6,1525.42H178.2"/>
<path d="M172.7,1496.8H178.2"/>
<path d="M168.6,1468.18H178.2"/>
<path d="M172.7,1439.56H178.2"/>
<path d="M168.6,1410.94H178.2"/>
<path d="M172.7,1382.32H178.2"/>
<path d="M168.6,1353.7H178.2"/>
<path d="M172.7,1325.08H178.2"/>
<path d="M168.6,1296.46H178.2"/>
<path d="M172.7,1267.84H178.2"/>
<path d="M168.6,1239.22H178.2"/>
<path d="M172.7,1210.6H178.2"/>
<path d="M168.6,1181.98H178.2"/>
<path d="M172.7,1153.36H178.2"/>
<path d="M168.6,1124.74H178.2"/>
<path d="M172.7,1096.12H178.2"/>
<path d="M168.6,1067.5H178.2"/>
<path d="M172.7,1038.88H178.2"/>
<path d="M178.2,1554.4V1564.5"/>
<path d="M213.77,1554.4V1559.5"/>
<path d="M249.33,1554.4V1564.5"/>
<path d="M284.9,1554.4V1559.5"/>
<path d="M320.47,1554.4V1564.5"/>
<path d="M356.03,1554.4V1559.5"/>
<path d="M391.6,1554.4V1564.5"/>
<path d="M427.17,1554.4V1559.5"/>
<path d="M462.73,1554.4V1564.5"/>
<path d="M498.3,1554.4V1559.5"/>
<path d="M533.87,1554.4V1564.5"/>
<path d="M569.43,1554.4V1559.5"/>
<path d="M605,1554.4V1564.5"/>
<path d="M640.57,1554.4V1559.5"/>
<path d="M676.13,1554.4V1564.5"/>
<path d="M711.7,1554.4V1559.5"/>
<path d="M747.27,1554.4V1564.5"/>
<path d="M782.83,1554.4V1559.5"/>
<path d="M818.4,1554.4V1564.5"/>
</g>
<g font-size="35.5" fill="#000" text-anchor="end">
<text transform="translate(161,1535.72) scale(1,1.041)">2.4</text>
<text transform="translate(161,1478.48) scale(1,1.041)">2.6</text>
<text transform="translate(161,1421.24) scale(1,1.041)">2.8</text>
<text transform="translate(161,1364) scale(1,1.041)">3.0</text>
<text transform="translate(161,1306.76) scale(1,1.041)">3.2</text>
<text transform="translate(161,1249.52) scale(1,1.041)">3.4</text>
<text transform="translate(161,1192.28) scale(1,1.041)">3.6</text>
<text transform="translate(161,1135.04) scale(1,1.041)">3.8</text>
<text transform="translate(161,1077.8) scale(1,1.041)">4.0</text>
</g>
<g font-size="35.5" fill="#000" text-anchor="middle">
<text transform="translate(178.8,1597) scale(1,1.041)">0</text>
<text transform="translate(249.93,1597) scale(1,1.041)">20</text>
<text transform="translate(321.07,1597) scale(1,1.041)">40</text>
<text transform="translate(392.2,1597) scale(1,1.041)">60</text>
<text transform="translate(463.33,1597) scale(1,1.041)">80</text>
<text transform="translate(534.47,1597) scale(1,1.041)">100</text>
<text transform="translate(605.6,1597) scale(1,1.041)">120</text>
<text transform="translate(676.73,1597) scale(1,1.041)">140</text>
<text transform="translate(747.87,1597) scale(1,1.041)">160</text>
<text transform="translate(819,1597) scale(1,1.041)">180</text>
</g>
<text transform="translate(175.3,1020.8) scale(1,1.041)" font-size="42" fill="#555555">Cu foil-Li||LFP</text>
<text transform="translate(497.3,1651.2) scale(1,1.041)" font-size="46.2" text-anchor="middle" fill="#000">Capacity (mA h cm<tspan font-size="26" dy="-14.7">-2</tspan><tspan dy="14.7">)</tspan></text>
<path d="M325.5,1510.6H796.7" stroke="#000" stroke-width="3.2" fill="none"/>
<path d="M305.5,1510.6 L339.5,1496.6 L326.5,1510.6 L339.5,1524.6 Z" fill="#000"/>
<g font-size="36">
<text transform="translate(354,1545.7) scale(1,1.041)" fill="#C27BE0">6C</text>
<text transform="translate(417.7,1545.7) scale(1,1.041)" fill="#0A6BE0">4C</text>
<text transform="translate(483,1545.7) scale(1,1.041)" fill="#00A862">2C</text>
<text transform="translate(548.3,1545.7) scale(1,1.041)" fill="#FF8818">1C</text>
<text transform="translate(613.6,1545.7) scale(1,1.041)" fill="#FF3B3B">0.4C</text>
<text transform="translate(705,1545.7) scale(1,1.041)" fill="#555555">0.2 C</text>
</g>
<g fill="none" stroke-width="3.4" stroke-linejoin="round" stroke-linecap="butt">
<path d="M914.79,1424.96 C915.88,1391.23 916.66,1356.93 918.06,1323.77 C919.4,1291.69 917.94,1240.88 922.95,1229.11 C924.33,1225.88 924.46,1225.35 927.85,1223.89 C946,1216.04 1103.22,1223.88 1133.49,1224.22 C1142.07,1224.31 1142.32,1224.52 1150,1224.56 C1167.69,1224.66 1208.48,1223.98 1237.72,1223.68 C1266.96,1223.39 1299.92,1223.57 1325.44,1222.81 C1345.22,1222.21 1363.56,1221.5 1378.07,1220.18 C1388.37,1219.23 1396.54,1218.17 1404.39,1216.67 C1410.86,1215.43 1416.7,1214.22 1421.93,1212.28 C1426.49,1210.59 1430.33,1208.94 1434.21,1206.14 C1438.57,1203 1442.95,1198.31 1446.49,1193.86 C1449.94,1189.52 1452.82,1184.91 1455.26,1179.82 C1457.85,1174.43 1459.64,1168.17 1461.4,1162.28 C1463.14,1156.47 1464.44,1150.44 1465.79,1144.74 C1467.06,1139.34 1468.18,1134.49 1469.3,1128.95 C1470.53,1122.85 1471.78,1116.09 1472.81,1109.65 C1473.83,1103.23 1474.79,1096.64 1475.44,1090.35 C1476.05,1084.37 1476.05,1077.25 1476.67,1072.81 C1477.05,1070.04 1477.6,1068.36 1478.07,1066.14" stroke="#555555"/>
<path d="M914.79,1338.46 C915.88,1311.8 916.6,1279.26 918.06,1258.49 C918.99,1245.19 918.29,1230.89 921.32,1225.85 C922.6,1223.71 923.18,1223.5 926.22,1222.58 C942.76,1217.58 1060.49,1222.85 1100.85,1222.58 C1122.26,1222.44 1132.16,1222.16 1150,1221.93 C1171.31,1221.65 1196.79,1221.78 1220.18,1221.05 C1243.57,1220.32 1270.98,1218.75 1290.35,1217.54 C1304.06,1216.69 1314.62,1216.39 1325.44,1214.91 C1334.88,1213.62 1344.02,1212.3 1351.75,1209.65 C1358.36,1207.38 1363.91,1204.21 1369.3,1200.88 C1374.39,1197.73 1378.94,1194.16 1383.33,1190.35 C1387.71,1186.56 1391.88,1182.62 1395.61,1178.07 C1399.52,1173.31 1402.95,1167.79 1406.14,1162.28 C1409.39,1156.68 1412.34,1150.95 1414.91,1144.74 C1417.65,1138.13 1419.64,1130.37 1421.93,1123.68 C1424.02,1117.56 1426.31,1112.03 1428.07,1106.14 C1429.81,1100.33 1431.11,1094.3 1432.46,1088.6 C1433.73,1083.2 1435.4,1076.97 1435.96,1072.81 C1436.33,1070.13 1436.2,1068.36 1436.32,1066.14" stroke="#FF3B3B"/>
<path d="M914.79,1232.38 C916.42,1228.57 915.21,1223.91 919.69,1220.95 C935.17,1210.74 1026.03,1221.38 1068.21,1220.95 C1099.51,1220.64 1123.78,1220.05 1150,1219.3 C1174.29,1218.6 1198.49,1218.34 1220.18,1216.67 C1239.01,1215.22 1258.33,1213.05 1272.81,1210.53 C1283.14,1208.72 1291.45,1207.49 1299.12,1204.39 C1305.8,1201.68 1310.95,1197.84 1316.67,1193.86 C1322.66,1189.69 1328.5,1184.94 1334.21,1179.82 C1340.21,1174.45 1346.38,1168.28 1351.75,1162.28 C1356.87,1156.57 1361.96,1150.98 1365.79,1144.74 C1369.51,1138.67 1371.58,1131.69 1374.56,1125.44 C1377.43,1119.42 1380.68,1113.8 1383.33,1107.89 C1385.94,1102.1 1388.37,1095.91 1390.35,1090.35 C1392.09,1085.45 1393.5,1080.63 1394.74,1076.32 C1395.78,1072.67 1396.49,1069.53 1397.37,1066.14" stroke="#FF8818"/>
<path d="M914.79,1217.69 C955.05,1217.69 997.42,1218.32 1035.57,1217.69 C1069.92,1217.12 1114.49,1214.96 1133.49,1214.42 C1141.29,1214.2 1143.19,1214.46 1150,1214.04 C1161.13,1213.35 1179.31,1211.97 1193.86,1209.65 C1208.55,1207.31 1225.92,1203.95 1237.72,1200 C1246.19,1197.16 1252.23,1194.1 1258.77,1190.35 C1265.06,1186.75 1271.04,1182.77 1276.32,1178.07 C1281.56,1173.4 1285.91,1167.62 1290.35,1162.28 C1294.67,1157.09 1298.67,1152.12 1302.63,1146.49 C1306.87,1140.47 1311.08,1133.69 1314.91,1127.19 C1318.67,1120.82 1322.14,1114.2 1325.44,1107.89 C1328.55,1101.94 1331.51,1096.07 1334.21,1090.35 C1336.75,1084.98 1339.1,1078.98 1341.23,1074.56 C1342.81,1071.29 1344.15,1068.95 1345.61,1066.14" stroke="#00A862"/>
<path d="M914.79,1212.79 L1002.92,1212.79 L1068.21,1211.16 L1107.38,1207.9 L1150,1200.88 L1171.05,1195.61 L1202.63,1178.07 L1220.18,1158.77 L1237.72,1135.96 L1251.75,1114.91 L1264.04,1093.86 L1272.81,1078.07 L1277.19,1066.14" stroke="#0A6BE0"/>
<path d="M914.79,1207.9 L1012.72,1207.9 L1064.94,1204.63 L1107.38,1199.08 L1150,1183.33 L1157.02,1179.82 L1178.07,1151.75 L1199.12,1123.68 L1214.91,1099.12 L1225.44,1080.7 L1234.21,1066.14" stroke="#C27BE0"/>
<path d="M914.79,1236.62 C993.19,1236.4 1087.15,1235.63 1150,1235.96 C1192.05,1236.19 1223.72,1236.88 1255.26,1237.37 C1281.02,1237.77 1304.78,1238.21 1325.44,1238.6 C1341.77,1238.9 1357.98,1238.8 1369.3,1239.47 C1376.47,1239.9 1381.05,1240.08 1386.84,1241.23 C1392.75,1242.4 1398.63,1244.21 1404.39,1246.49 C1410.34,1248.85 1416.61,1251.69 1421.93,1255.26 C1427.11,1258.74 1431.76,1263.29 1435.96,1267.54 C1439.88,1271.5 1443.59,1275.24 1446.49,1279.82 C1449.48,1284.56 1451.8,1290.32 1453.51,1295.61 C1455.12,1300.62 1455.48,1304.49 1456.64,1310.72 C1458.51,1320.7 1461.15,1335.67 1463.17,1349.89 C1465.56,1366.75 1468.04,1387.44 1469.7,1405.38 C1471.24,1422.19 1471.97,1438.3 1472.96,1454.34 C1473.92,1469.83 1474.7,1484.8 1475.57,1500.04" stroke="#555555"/>
<path d="M914.79,1238.9 C987.69,1239.12 1102.07,1240.42 1133.49,1239.56 C1142.13,1239.32 1142.32,1238.7 1150,1238.6 C1167.69,1238.35 1212.2,1240.21 1237.72,1241.23 C1257.5,1242.02 1274.63,1242.1 1290.35,1243.86 C1303.28,1245.31 1314.65,1247.45 1325.44,1250 C1334.91,1252.24 1343.13,1254.47 1351.75,1257.89 C1360.68,1261.44 1370.41,1266.15 1378.07,1271.05 C1384.77,1275.34 1390.69,1280.33 1395.61,1285.09 C1399.79,1289.12 1402.93,1291.36 1406.14,1297.37 C1412.03,1308.41 1417.25,1330.84 1420.73,1349.89 C1424.74,1371.79 1424.88,1397.25 1427.26,1421.7 C1429.75,1447.25 1432.7,1473.92 1435.42,1500.04" stroke="#FF3B3B"/>
<path d="M914.79,1240.54 C976.81,1240.86 1058.74,1241.53 1100.85,1241.52 C1122.49,1241.51 1132.16,1240.95 1150,1241.23 C1171.32,1241.57 1198.52,1241.84 1220.18,1243.86 C1239.03,1245.62 1257.15,1248.25 1272.81,1251.75 C1285.8,1254.66 1297.24,1257.89 1307.89,1262.28 C1317.51,1266.24 1325.88,1270.63 1334.21,1276.32 C1342.88,1282.24 1351.69,1287.56 1358.77,1297.37 C1368.43,1310.76 1376.69,1334.54 1381.56,1353.15 C1386.12,1370.54 1385.98,1385.37 1388.09,1405.38 C1390.93,1432.25 1393.53,1468.48 1396.25,1500.04" stroke="#FF8818"/>
<path d="M914.79,1242.17 C965.93,1243.26 1025.05,1244.23 1068.21,1245.43 C1099.73,1246.31 1125.76,1246.42 1150,1248.25 C1169.5,1249.72 1186.96,1251.34 1202.63,1254.39 C1215.62,1256.91 1226.23,1259.63 1237.72,1264.04 C1249.64,1268.61 1262.83,1275.41 1272.81,1281.58 C1280.98,1286.63 1287.1,1290.52 1293.86,1297.37 C1302.28,1305.89 1312.07,1317.56 1317.91,1330.3 C1324.4,1344.45 1326.28,1363.47 1329.34,1379.26 C1332.16,1393.86 1333.76,1405.37 1335.87,1421.7 C1338.72,1443.81 1341.31,1473.92 1344.03,1500.04" stroke="#00A862"/>
<path d="M914.79,1247.06 L1035.57,1250.33 L1107.38,1255.23 L1150,1263.16 L1171.05,1270.18 L1202.63,1286.84 L1216.67,1297.37 L1236.31,1318.88 L1251,1359.68 L1270.58,1434.75 L1277.11,1500.04" stroke="#0A6BE0"/>
<path d="M914.79,1250.33 L1002.92,1253.59 L1055.15,1258.49 L1110.64,1268.28 L1156.34,1289.5 L1175.92,1313.98 L1205.3,1351.52 L1215.09,1405.38 L1224.89,1464.13 L1231.41,1500.04" stroke="#C27BE0"/>
</g>
<g stroke="#000" stroke-width="3" fill="none">
<path d="M913.7,1038.6H1551.8"/>
<path d="M913.7,1554.4H1551.8"/>
<path d="M915.2,1038.6V1554.4"/>
<path d="M1550.3,1038.6V1554.4"/>
<path d="M909.7,1554.04H915.2"/>
<path d="M905.6,1525.42H915.2"/>
<path d="M909.7,1496.8H915.2"/>
<path d="M905.6,1468.18H915.2"/>
<path d="M909.7,1439.56H915.2"/>
<path d="M905.6,1410.94H915.2"/>
<path d="M909.7,1382.32H915.2"/>
<path d="M905.6,1353.7H915.2"/>
<path d="M909.7,1325.08H915.2"/>
<path d="M905.6,1296.46H915.2"/>
<path d="M909.7,1267.84H915.2"/>
<path d="M905.6,1239.22H915.2"/>
<path d="M909.7,1210.6H915.2"/>
<path d="M905.6,1181.98H915.2"/>
<path d="M909.7,1153.36H915.2"/>
<path d="M905.6,1124.74H915.2"/>
<path d="M909.7,1096.12H915.2"/>
<path d="M905.6,1067.5H915.2"/>
<path d="M909.7,1038.88H915.2"/>
<path d="M915.2,1554.4V1564.5"/>
<path d="M950.48,1554.4V1559.5"/>
<path d="M985.77,1554.4V1564.5"/>
<path d="M1021.05,1554.4V1559.5"/>
<path d="M1056.33,1554.4V1564.5"/>
<path d="M1091.62,1554.4V1559.5"/>
<path d="M1126.9,1554.4V1564.5"/>
<path d="M1162.18,1554.4V1559.5"/>
<path d="M1197.47,1554.4V1564.5"/>
<path d="M1232.75,1554.4V1559.5"/>
<path d="M1268.03,1554.4V1564.5"/>
<path d="M1303.32,1554.4V1559.5"/>
<path d="M1338.6,1554.4V1564.5"/>
<path d="M1373.88,1554.4V1559.5"/>
<path d="M1409.17,1554.4V1564.5"/>
<path d="M1444.45,1554.4V1559.5"/>
<path d="M1479.73,1554.4V1564.5"/>
<path d="M1515.02,1554.4V1559.5"/>
<path d="M1550.3,1554.4V1564.5"/>
</g>
<g font-size="35.5" fill="#000" text-anchor="end">
<text transform="translate(897.9,1535.72) scale(1,1.041)">2.4</text>
<text transform="translate(897.9,1478.48) scale(1,1.041)">2.6</text>
<text transform="translate(897.9,1421.24) scale(1,1.041)">2.8</text>
<text transform="translate(897.9,1364) scale(1,1.041)">3.0</text>
<text transform="translate(897.9,1306.76) scale(1,1.041)">3.2</text>
<text transform="translate(897.9,1249.52) scale(1,1.041)">3.4</text>
<text transform="translate(897.9,1192.28) scale(1,1.041)">3.6</text>
<text transform="translate(897.9,1135.04) scale(1,1.041)">3.8</text>
<text transform="translate(897.9,1077.8) scale(1,1.041)">4.0</text>
</g>
<g font-size="35.5" fill="#000" text-anchor="middle">
<text transform="translate(915.8,1597) scale(1,1.041)">0</text>
<text transform="translate(986.37,1597) scale(1,1.041)">20</text>
<text transform="translate(1056.93,1597) scale(1,1.041)">40</text>
<text transform="translate(1127.5,1597) scale(1,1.041)">60</text>
<text transform="translate(1198.07,1597) scale(1,1.041)">80</text>
<text transform="translate(1268.63,1597) scale(1,1.041)">100</text>
<text transform="translate(1339.2,1597) scale(1,1.041)">120</text>
<text transform="translate(1409.77,1597) scale(1,1.041)">140</text>
<text transform="translate(1480.33,1597) scale(1,1.041)">160</text>
<text transform="translate(1550.9,1597) scale(1,1.041)">180</text>
</g>
<text transform="translate(911.9,1020.4) scale(1,1.041)" font-size="46.2" fill="#FF801A">CNTs@Cu foil-Li||LFP</text>
<text transform="translate(1231.75,1651.2) scale(1,1.041)" font-size="46.2" text-anchor="middle" fill="#000">Capacity (mA h cm<tspan font-size="26" dy="-14.7">-2</tspan><tspan dy="14.7">)</tspan></text>
<path d="M1053.9,1510.6H1525.2" stroke="#000" stroke-width="3.2" fill="none"/>
<path d="M1033.9,1510.6 L1067.9,1496.6 L1054.9,1510.6 L1067.9,1524.6 Z" fill="#000"/>
<g font-size="36">
<text transform="translate(1082.5,1545.7) scale(1,1.041)" fill="#C27BE0">6C</text>
<text transform="translate(1146.2,1545.7) scale(1,1.041)" fill="#0A6BE0">4C</text>
<text transform="translate(1211.5,1545.7) scale(1,1.041)" fill="#00A862">2C</text>
<text transform="translate(1276.8,1545.7) scale(1,1.041)" fill="#FF8818">1C</text>
<text transform="translate(1342.1,1545.7) scale(1,1.041)" fill="#FF3B3B">0.4C</text>
<text transform="translate(1433.5,1545.7) scale(1,1.041)" fill="#555555">0.2 C</text>
</g>
<g fill="none" stroke-width="3.4" stroke-linejoin="round" stroke-linecap="butt">
<path d="M1651.79,1431.49 C1652.88,1395.58 1653.63,1358.51 1655.06,1323.77 C1656.39,1291.19 1654.57,1239.61 1659.95,1229.11 C1661.34,1226.41 1661.62,1226.34 1664.85,1225.2 C1686.08,1217.7 1861.77,1224.81 1935.77,1224.22 C1987.15,1223.8 2040.15,1222.63 2066.34,1222.58 C2077.61,1222.57 2081.72,1223.1 2090.53,1222.81 C2101.14,1222.46 2115.23,1221.75 2125.61,1220.18 C2134.09,1218.89 2141.86,1217.27 2148.42,1214.91 C2153.8,1212.98 2158.16,1210.99 2162.46,1207.89 C2166.97,1204.64 2171.14,1199.86 2174.74,1195.61 C2178.09,1191.65 2181.17,1187.73 2183.51,1183.33 C2185.84,1178.95 2187.06,1174.13 2188.77,1169.3 C2190.57,1164.21 2192.57,1158.81 2194.04,1153.51 C2195.48,1148.28 2196.34,1142.82 2197.54,1137.72 C2198.68,1132.9 2199.87,1128.85 2201.05,1123.68 C2202.49,1117.39 2204.41,1109.68 2205.44,1102.63 C2206.45,1095.64 2206.74,1088.06 2207.19,1081.58 C2207.58,1076.04 2207.78,1071.29 2208.07,1066.14" stroke="#555555"/>
<path d="M1651.79,1354.78 C1652.88,1322.68 1653.48,1282.09 1655.06,1258.49 C1655.98,1244.72 1655.29,1230.89 1658.32,1225.85 C1659.6,1223.71 1660.11,1223.52 1663.22,1222.58 C1683.06,1216.58 1835.23,1223.43 1903.13,1222.58 C1953.23,1221.96 2002.89,1221.43 2033.7,1219.32 C2050.64,1218.16 2060.93,1217.68 2072.98,1214.91 C2083.76,1212.44 2094.96,1208.58 2102.81,1204.39 C2108.65,1201.26 2112.3,1197.8 2116.84,1193.86 C2121.67,1189.67 2126.19,1185 2130.88,1179.82 C2136.13,1174.02 2142.19,1167.17 2146.67,1160.53 C2150.87,1154.28 2154.2,1147.6 2157.19,1141.23 C2159.97,1135.32 2161.96,1129.83 2164.21,1123.68 C2166.65,1117.02 2169.2,1109.84 2171.23,1102.63 C2173.31,1095.23 2175.09,1086.47 2176.49,1079.82 C2177.58,1074.7 2178.25,1070.7 2179.12,1066.14" stroke="#FF3B3B"/>
<path d="M1651.79,1232.38 C1653.42,1228.57 1652.04,1224.02 1656.69,1220.95 C1675.99,1208.23 1812.97,1221.91 1870.49,1220.95 C1909.43,1220.3 1940.94,1219.8 1968.41,1217.69 C1988.49,1216.14 2005.8,1214.53 2020.35,1211.4 C2031.26,1209.06 2039.64,1206.74 2048.42,1202.63 C2057.18,1198.54 2064.75,1193.04 2072.98,1186.84 C2082.28,1179.84 2093.95,1170.2 2101.05,1162.28 C2106.44,1156.28 2109.42,1151.09 2113.33,1144.74 C2117.64,1137.75 2121.52,1129.53 2125.61,1121.93 C2129.71,1114.33 2134.48,1106.09 2137.89,1099.12 C2140.69,1093.43 2143.02,1088.79 2144.91,1083.33 C2146.83,1077.8 2147.84,1071.87 2149.3,1066.14" stroke="#FF8818"/>
<path d="M1651.79,1218.67 C1713.81,1218.34 1788.44,1218.81 1837.85,1217.69 C1870.58,1216.95 1897.17,1216.46 1919.45,1214.42 C1935.02,1213 1947.2,1211.36 1958.95,1208.77 C1968.7,1206.62 1976.91,1204.04 1985.26,1200.88 C1993.25,1197.85 1999.95,1195.56 2008.07,1190.35 C2019.35,1183.11 2036.46,1166.6 2044.91,1158.77 C2049.59,1154.44 2051.83,1152.73 2055.44,1148.25 C2060.5,1141.97 2066.44,1131.81 2071.23,1123.68 C2075.74,1116.03 2079.63,1108.36 2083.51,1100.88 C2087.21,1093.75 2090.79,1086.07 2094.04,1079.82 C2096.67,1074.75 2098.95,1070.7 2101.4,1066.14" stroke="#00A862"/>
<path d="M1651.79,1215.4 L1805.21,1215.4 L1880,1207.89 L1901.05,1204.39 L1941.4,1189.47 L1985.26,1150 L2002.81,1123.68 L2016.84,1102.63 L2029.12,1085.09 L2039.65,1066.14" stroke="#0A6BE0"/>
<path d="M1651.79,1212.79 L1772.57,1211.16 L1837.85,1206.26 L1880,1195.61 L1901.05,1188.6 L1923.86,1165.79 L1946.67,1142.98 L1967.72,1121.93 L1985.26,1092.11 L2001.05,1066.14" stroke="#C27BE0"/>
<path d="M1651.79,1236.29 C1746.45,1236.4 1859.28,1235.91 1935.77,1236.62 C1987.65,1237.1 2031.41,1237.15 2066.34,1238.9 C2089.8,1240.09 2108.67,1239.55 2125.09,1243.8 C2137.89,1247.11 2148.81,1251.81 2157.73,1258.49 C2165.91,1264.61 2172.12,1271.9 2177.32,1281.34 C2183.63,1292.8 2187.18,1307.93 2190.37,1323.77 C2194.26,1343.03 2194.73,1367.29 2196.9,1389.05 C2199.08,1410.82 2201.38,1434.52 2203.43,1454.34 C2205.15,1470.93 2206.7,1484.8 2208.33,1500.04" stroke="#555555"/>
<path d="M1651.79,1237.27 C1735.57,1237.6 1835.66,1237.45 1903.13,1238.25 C1948.63,1238.8 1987.29,1238.24 2017.38,1240.54 C2037.15,1242.05 2050.87,1242.84 2066.34,1247.06 C2081.28,1251.14 2096.02,1257.42 2108.77,1265.02 C2120.92,1272.26 2133.07,1281.26 2141.41,1291.13 C2148.89,1299.98 2153.55,1308.92 2157.73,1320.51 C2162.99,1335.08 2165.13,1353.31 2167.53,1372.73 C2170.5,1396.83 2170.07,1431.09 2172.42,1454.34 C2174.19,1471.8 2176.77,1484.8 2178.95,1500.04" stroke="#FF3B3B"/>
<path d="M1651.79,1238.9 C1724.69,1239.45 1812.05,1239.34 1870.49,1240.54 C1909.61,1241.33 1941.42,1241.56 1968.41,1243.8 C1987.58,1245.39 2001.27,1246.35 2017.38,1250.33 C2033.92,1254.41 2051.63,1261.01 2066.34,1268.28 C2079.62,1274.85 2092.68,1282.28 2102.24,1291.13 C2110.62,1298.89 2117,1307.1 2121.83,1317.24 C2127.2,1328.52 2128.67,1341.62 2131.62,1356.41 C2135.39,1375.33 2138.52,1398.91 2141.41,1421.7 C2144.57,1446.59 2146.85,1473.92 2149.57,1500.04" stroke="#FF8818"/>
<path d="M1651.79,1240.54 C1713.81,1241.62 1788.45,1241.89 1837.85,1243.8 C1870.59,1245.07 1895.74,1246.41 1919.45,1248.7 C1937.88,1250.48 1953.85,1252.09 1968.41,1255.23 C1980.51,1257.83 1989.65,1259.77 2001.05,1265.02 C2015.45,1271.65 2034.69,1283.99 2046.75,1294.39 C2056.39,1302.71 2063.55,1308.78 2069.6,1320.51 C2078.22,1337.22 2081.53,1366.39 2085.92,1389.05 C2090.17,1410.99 2092.81,1434.51 2095.71,1454.34 C2098.14,1470.92 2100.07,1484.8 2102.24,1500.04" stroke="#00A862"/>
<path d="M1651.79,1243.8 L1805.21,1248.7 L1854.17,1253.59 L1899.87,1260.12 L1942.3,1274.81 L1984.73,1304.19 L2007.58,1353.15 L2027.17,1402.11 L2032.06,1454.34 L2036.96,1500.04" stroke="#0A6BE0"/>
<path d="M1651.79,1247.06 L1772.57,1253.59 L1841.11,1260.12 L1899.87,1276.44 L1929.24,1300.92 L1965.15,1328.67 L1974.94,1372.73 L1988,1438.02 L2001.05,1500.04" stroke="#C27BE0"/>
</g>
<g stroke="#000" stroke-width="3" fill="none">
<path d="M1651.2,1038.6H2293.5"/>
<path d="M1651.2,1554.4H2293.5"/>
<path d="M1652.7,1038.6V1554.4"/>
<path d="M2292,1038.6V1554.4"/>
<path d="M1647.2,1554.04H1652.7"/>
<path d="M1643.1,1525.42H1652.7"/>
<path d="M1647.2,1496.8H1652.7"/>
<path d="M1643.1,1468.18H1652.7"/>
<path d="M1647.2,1439.56H1652.7"/>
<path d="M1643.1,1410.94H1652.7"/>
<path d="M1647.2,1382.32H1652.7"/>
<path d="M1643.1,1353.7H1652.7"/>
<path d="M1647.2,1325.08H1652.7"/>
<path d="M1643.1,1296.46H1652.7"/>
<path d="M1647.2,1267.84H1652.7"/>
<path d="M1643.1,1239.22H1652.7"/>
<path d="M1647.2,1210.6H1652.7"/>
<path d="M1643.1,1181.98H1652.7"/>
<path d="M1647.2,1153.36H1652.7"/>
<path d="M1643.1,1124.74H1652.7"/>
<path d="M1647.2,1096.12H1652.7"/>
<path d="M1643.1,1067.5H1652.7"/>
<path d="M1647.2,1038.88H1652.7"/>
<path d="M1652.7,1554.4V1564.5"/>
<path d="M1688.22,1554.4V1559.5"/>
<path d="M1723.73,1554.4V1564.5"/>
<path d="M1759.25,1554.4V1559.5"/>
<path d="M1794.77,1554.4V1564.5"/>
<path d="M1830.28,1554.4V1559.5"/>
<path d="M1865.8,1554.4V1564.5"/>
<path d="M1901.32,1554.4V1559.5"/>
<path d="M1936.83,1554.4V1564.5"/>
<path d="M1972.35,1554.4V1559.5"/>
<path d="M2007.87,1554.4V1564.5"/>
<path d="M2043.38,1554.4V1559.5"/>
<path d="M2078.9,1554.4V1564.5"/>
<path d="M2114.42,1554.4V1559.5"/>
<path d="M2149.93,1554.4V1564.5"/>
<path d="M2185.45,1554.4V1559.5"/>
<path d="M2220.97,1554.4V1564.5"/>
<path d="M2256.48,1554.4V1559.5"/>
<path d="M2292,1554.4V1564.5"/>
</g>
<g font-size="35.5" fill="#000" text-anchor="end">
<text transform="translate(1632.8,1535.72) scale(1,1.041)">2.4</text>
<text transform="translate(1632.8,1478.48) scale(1,1.041)">2.6</text>
<text transform="translate(1632.8,1421.24) scale(1,1.041)">2.8</text>
<text transform="translate(1632.8,1364) scale(1,1.041)">3.0</text>
<text transform="translate(1632.8,1306.76) scale(1,1.041)">3.2</text>
<text transform="translate(1632.8,1249.52) scale(1,1.041)">3.4</text>
<text transform="translate(1632.8,1192.28) scale(1,1.041)">3.6</text>
<text transform="translate(1632.8,1135.04) scale(1,1.041)">3.8</text>
<text transform="translate(1632.8,1077.8) scale(1,1.041)">4.0</text>
</g>
<g font-size="35.5" fill="#000" text-anchor="middle">
<text transform="translate(1653.3,1597) scale(1,1.041)">0</text>
<text transform="translate(1724.33,1597) scale(1,1.041)">20</text>
<text transform="translate(1795.37,1597) scale(1,1.041)">40</text>
<text transform="translate(1866.4,1597) scale(1,1.041)">60</text>
<text transform="translate(1937.43,1597) scale(1,1.041)">80</text>
<text transform="translate(2008.47,1597) scale(1,1.041)">100</text>
<text transform="translate(2079.5,1597) scale(1,1.041)">120</text>
<text transform="translate(2150.53,1597) scale(1,1.041)">140</text>
<text transform="translate(2221.57,1597) scale(1,1.041)">160</text>
<text transform="translate(2292.6,1597) scale(1,1.041)">180</text>
</g>
<text transform="translate(1652.4,1020.2) scale(1,1.041)" font-size="46" fill="#00AD63">Au@CNTs@Cu foil-Li||LFP</text>
<text transform="translate(1971.35,1651.2) scale(1,1.041)" font-size="46.2" text-anchor="middle" fill="#000">Capacity (mA h cm<tspan font-size="26" dy="-14.7">-2</tspan><tspan dy="14.7">)</tspan></text>
<path d="M1796.5,1510.6H2268.7" stroke="#000" stroke-width="3.2" fill="none"/>
<path d="M1776.5,1510.6 L1810.5,1496.6 L1797.5,1510.6 L1810.5,1524.6 Z" fill="#000"/>
<g font-size="36">
<text transform="translate(1825.4,1545.7) scale(1,1.041)" fill="#C27BE0">6C</text>
<text transform="translate(1889.1,1545.7) scale(1,1.041)" fill="#0A6BE0">4C</text>
<text transform="translate(1954.4,1545.7) scale(1,1.041)" fill="#00A862">2C</text>
<text transform="translate(2019.7,1545.7) scale(1,1.041)" fill="#FF8818">1C</text>
<text transform="translate(2085,1545.7) scale(1,1.041)" fill="#FF3B3B">0.4C</text>
<text transform="translate(2176.4,1545.7) scale(1,1.041)" fill="#555555">0.2 C</text>
</g>
<text transform="translate(84.9,1294.8) rotate(-90) scale(1,1.041)" font-size="45.7" text-anchor="middle" fill="#000">Voltage (V <tspan font-style="italic">vs.</tspan> Li<tspan font-size="26" dy="-14.7">+</tspan><tspan dy="14.7">/Li)</tspan></text>
</svg></body></html>
